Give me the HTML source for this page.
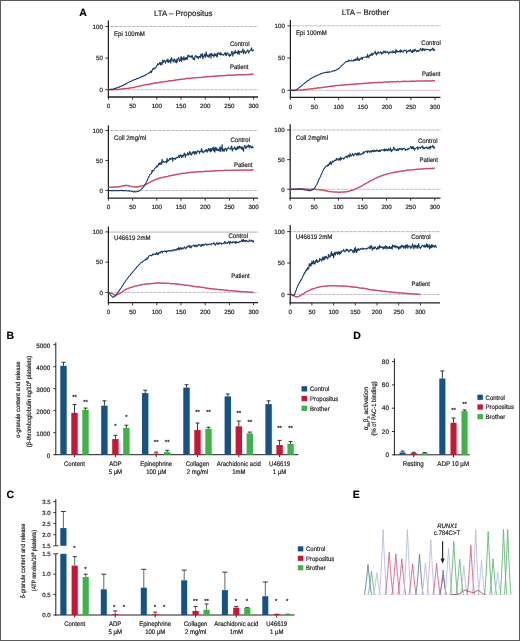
<!DOCTYPE html>
<html><head><meta charset="utf-8"><style>
html,body{margin:0;padding:0;background:#fff;width:520px;height:641px;overflow:hidden;}
svg{display:block;font-family:"Liberation Sans", sans-serif;will-change:transform;} text{stroke:#231f20;stroke-width:0.2px;text-rendering:geometricPrecision;}
</style></head><body>
<svg width="520" height="641" viewBox="0 0 520 641" font-family='"Liberation Sans", sans-serif'><rect x="0.5" y="0.5" width="519" height="640" fill="none" stroke="#5a5a5a" stroke-width="1"/>
<text x="83.00" y="16.30" font-size="10.5" text-anchor="middle" font-weight="bold" font-style="normal" fill="#000" >A</text>
<text x="183.30" y="15.60" font-size="8" text-anchor="middle" font-weight="normal" font-style="normal" fill="#231f20" textLength="58.4" lengthAdjust="spacingAndGlyphs">LTA – Propositus</text>
<text x="365.50" y="15.40" font-size="8" text-anchor="middle" font-weight="normal" font-style="normal" fill="#231f20" textLength="47.4" lengthAdjust="spacingAndGlyphs">LTA – Brother</text>
<line x1="108.40" y1="26.50" x2="258.00" y2="26.50" stroke="#9a9a9a" stroke-width="1.0" stroke-dasharray="0.7,0.6"/>
<line x1="108.40" y1="89.70" x2="258.00" y2="89.70" stroke="#9a9a9a" stroke-width="1.0" stroke-dasharray="0.7,0.6"/>
<line x1="108.40" y1="20.40" x2="108.40" y2="97.60" stroke="#231f20" stroke-width="1.25" />
<line x1="107.80" y1="97.00" x2="258.00" y2="97.00" stroke="#231f20" stroke-width="1.3" />
<line x1="105.40" y1="26.50" x2="108.40" y2="26.50" stroke="#231f20" stroke-width="0.9" />
<text x="102.90" y="28.70" font-size="6.2" text-anchor="end" font-weight="normal" font-style="normal" fill="#231f20" >100</text>
<line x1="105.40" y1="58.10" x2="108.40" y2="58.10" stroke="#231f20" stroke-width="0.9" />
<text x="102.90" y="60.30" font-size="6.2" text-anchor="end" font-weight="normal" font-style="normal" fill="#231f20" >50</text>
<line x1="105.40" y1="89.70" x2="108.40" y2="89.70" stroke="#231f20" stroke-width="0.9" />
<text x="102.90" y="91.90" font-size="6.2" text-anchor="end" font-weight="normal" font-style="normal" fill="#231f20" >0</text>
<line x1="108.40" y1="97.00" x2="108.40" y2="99.60" stroke="#231f20" stroke-width="0.9" />
<text x="108.40" y="108.30" font-size="6.2" text-anchor="middle" font-weight="normal" font-style="normal" fill="#231f20" >0</text>
<line x1="132.60" y1="97.00" x2="132.60" y2="99.60" stroke="#231f20" stroke-width="0.9" />
<text x="132.60" y="108.30" font-size="6.2" text-anchor="middle" font-weight="normal" font-style="normal" fill="#231f20" >50</text>
<line x1="156.80" y1="97.00" x2="156.80" y2="99.60" stroke="#231f20" stroke-width="0.9" />
<text x="156.80" y="108.30" font-size="6.2" text-anchor="middle" font-weight="normal" font-style="normal" fill="#231f20" >100</text>
<line x1="181.00" y1="97.00" x2="181.00" y2="99.60" stroke="#231f20" stroke-width="0.9" />
<text x="181.00" y="108.30" font-size="6.2" text-anchor="middle" font-weight="normal" font-style="normal" fill="#231f20" >150</text>
<line x1="205.20" y1="97.00" x2="205.20" y2="99.60" stroke="#231f20" stroke-width="0.9" />
<text x="205.20" y="108.30" font-size="6.2" text-anchor="middle" font-weight="normal" font-style="normal" fill="#231f20" >200</text>
<line x1="229.40" y1="97.00" x2="229.40" y2="99.60" stroke="#231f20" stroke-width="0.9" />
<text x="229.40" y="108.30" font-size="6.2" text-anchor="middle" font-weight="normal" font-style="normal" fill="#231f20" >250</text>
<line x1="253.60" y1="97.00" x2="253.60" y2="99.60" stroke="#231f20" stroke-width="0.9" />
<text x="253.60" y="108.30" font-size="6.2" text-anchor="middle" font-weight="normal" font-style="normal" fill="#231f20" >300</text>
<text x="114.00" y="35.90" font-size="6.63" text-anchor="start" font-weight="normal" font-style="normal" fill="#231f20"  textLength="30.85" lengthAdjust="spacingAndGlyphs">Epi 100mM</text>
<polyline points="108.40,89.72 109.37,89.65 110.34,89.49 111.30,89.65 112.27,89.62 113.24,89.57 114.21,89.70 115.18,89.55 116.14,89.46 117.11,89.34 118.08,89.54 119.05,89.37 120.02,89.37 120.98,89.00 121.95,88.94 122.92,89.09 123.89,88.62 124.86,88.51 125.82,88.50 126.79,88.39 127.76,88.43 128.73,88.34 129.70,87.99 130.66,88.01 131.63,87.80 132.60,87.60 133.57,87.50 134.54,87.15 135.50,86.96 136.47,86.61 137.44,86.53 138.41,86.28 139.38,86.12 140.34,85.85 141.31,85.72 142.28,85.58 143.25,85.10 144.22,84.90 145.18,84.76 146.15,84.62 147.12,84.58 148.09,84.43 149.06,84.23 150.02,84.14 150.99,83.71 151.96,83.68 152.93,83.35 153.90,83.36 154.86,82.98 155.83,82.86 156.80,83.03 157.77,82.79 158.74,82.37 159.70,82.39 160.67,82.04 161.64,82.11 162.61,82.09 163.58,81.73 164.54,81.52 165.51,81.57 166.48,81.50 167.45,81.26 168.42,80.88 169.38,80.81 170.35,80.92 171.32,80.73 172.29,80.65 173.26,80.53 174.22,80.12 175.19,80.22 176.16,79.94 177.13,79.86 178.10,79.82 179.06,79.49 180.03,79.59 181.00,79.27 181.97,79.35 182.94,79.11 183.90,79.07 184.87,78.93 185.84,78.55 186.81,78.50 187.78,78.58 188.74,78.25 189.71,78.41 190.68,78.24 191.65,77.97 192.62,77.96 193.58,78.08 194.55,77.65 195.52,77.86 196.49,77.76 197.46,77.48 198.42,77.57 199.39,77.50 200.36,77.50 201.33,77.41 202.30,77.14 203.26,77.19 204.23,76.97 205.20,76.97 206.17,76.86 207.14,76.59 208.10,76.69 209.07,76.58 210.04,76.39 211.01,76.57 211.98,76.50 212.94,76.14 213.91,76.10 214.88,76.24 215.85,76.19 216.82,75.91 217.78,75.77 218.75,75.98 219.72,75.63 220.69,75.59 221.66,75.63 222.62,75.63 223.59,75.69 224.56,75.65 225.53,75.25 226.50,75.46 227.46,75.23 228.43,75.35 229.40,75.09 230.37,75.12 231.34,75.19 232.30,75.19 233.27,74.94 234.24,75.14 235.21,75.04 236.18,74.88 237.14,74.73 238.11,74.78 239.08,74.87 240.05,74.59 241.02,74.82 241.98,74.85 242.95,74.72 243.92,74.62 244.89,74.73 245.86,74.65 246.82,74.54 247.79,74.42 248.76,74.55 249.73,74.43 250.70,74.19 251.66,74.12 252.63,74.20 253.60,74.14" fill="none" stroke="#e27a92" stroke-width="1.5" stroke-linejoin="round" />
<polyline points="108.40,89.72 109.37,89.65 110.34,89.49 111.30,89.65 112.27,89.62 113.24,89.57 114.21,89.70 115.18,89.55 116.14,89.46 117.11,89.34 118.08,89.54 119.05,89.37 120.02,89.37 120.98,89.00 121.95,88.94 122.92,89.09 123.89,88.62 124.86,88.51 125.82,88.50 126.79,88.39 127.76,88.43 128.73,88.34 129.70,87.99 130.66,88.01 131.63,87.80 132.60,87.60 133.57,87.50 134.54,87.15 135.50,86.96 136.47,86.61 137.44,86.53 138.41,86.28 139.38,86.12 140.34,85.85 141.31,85.72 142.28,85.58 143.25,85.10 144.22,84.90 145.18,84.76 146.15,84.62 147.12,84.58 148.09,84.43 149.06,84.23 150.02,84.14 150.99,83.71 151.96,83.68 152.93,83.35 153.90,83.36 154.86,82.98 155.83,82.86 156.80,83.03 157.77,82.79 158.74,82.37 159.70,82.39 160.67,82.04 161.64,82.11 162.61,82.09 163.58,81.73 164.54,81.52 165.51,81.57 166.48,81.50 167.45,81.26 168.42,80.88 169.38,80.81 170.35,80.92 171.32,80.73 172.29,80.65 173.26,80.53 174.22,80.12 175.19,80.22 176.16,79.94 177.13,79.86 178.10,79.82 179.06,79.49 180.03,79.59 181.00,79.27 181.97,79.35 182.94,79.11 183.90,79.07 184.87,78.93 185.84,78.55 186.81,78.50 187.78,78.58 188.74,78.25 189.71,78.41 190.68,78.24 191.65,77.97 192.62,77.96 193.58,78.08 194.55,77.65 195.52,77.86 196.49,77.76 197.46,77.48 198.42,77.57 199.39,77.50 200.36,77.50 201.33,77.41 202.30,77.14 203.26,77.19 204.23,76.97 205.20,76.97 206.17,76.86 207.14,76.59 208.10,76.69 209.07,76.58 210.04,76.39 211.01,76.57 211.98,76.50 212.94,76.14 213.91,76.10 214.88,76.24 215.85,76.19 216.82,75.91 217.78,75.77 218.75,75.98 219.72,75.63 220.69,75.59 221.66,75.63 222.62,75.63 223.59,75.69 224.56,75.65 225.53,75.25 226.50,75.46 227.46,75.23 228.43,75.35 229.40,75.09 230.37,75.12 231.34,75.19 232.30,75.19 233.27,74.94 234.24,75.14 235.21,75.04 236.18,74.88 237.14,74.73 238.11,74.78 239.08,74.87 240.05,74.59 241.02,74.82 241.98,74.85 242.95,74.72 243.92,74.62 244.89,74.73 245.86,74.65 246.82,74.54 247.79,74.42 248.76,74.55 249.73,74.43 250.70,74.19 251.66,74.12 252.63,74.20 253.60,74.14" fill="none" stroke="#a81e40" stroke-width="0.6" stroke-linejoin="round" />
<polyline points="108.40,89.79 108.88,89.68 109.37,89.53 109.85,89.51 110.34,89.21 110.82,89.56 111.30,89.30 111.79,89.28 112.27,89.32 112.76,89.24 113.24,88.96 113.72,88.96 114.21,88.57 114.69,88.49 115.18,88.63 115.66,88.26 116.14,87.75 116.63,88.02 117.11,87.76 117.60,87.80 118.08,87.15 118.56,87.20 119.05,87.09 119.53,87.11 120.02,86.40 120.50,86.48 120.98,86.04 121.47,86.29 121.95,85.96 122.44,85.62 122.92,85.47 123.40,84.88 123.89,84.87 124.37,84.62 124.86,84.70 125.34,84.52 125.82,83.58 126.31,83.75 126.79,83.52 127.28,82.82 127.76,82.93 128.24,82.60 128.73,82.20 129.21,82.06 129.70,81.75 130.18,81.56 130.66,81.45 131.15,81.19 131.63,80.81 132.12,80.35 132.60,80.70 133.08,80.24 133.57,79.92 134.05,79.94 134.54,79.52 135.02,79.49 135.50,79.37 135.99,79.25 136.47,78.75 136.96,78.40 137.44,78.68 137.92,78.55 138.41,78.05 138.89,78.09 139.38,77.84 139.86,77.67 140.34,77.66 140.83,77.00 141.31,76.59 141.80,76.92 142.28,76.69 142.76,76.12 143.25,76.11 143.73,75.75 144.22,75.98 144.70,75.38 145.18,74.98 145.67,75.15 146.15,74.52 146.64,74.45 147.12,74.04 147.60,73.69 148.09,73.60 148.57,73.15 149.06,73.19 149.54,72.27 150.02,72.71 150.51,71.86 150.99,70.60 151.48,72.60 151.96,70.94 152.44,70.21 152.93,68.43 153.41,69.17 153.90,67.85 154.38,68.29 154.86,68.86 155.35,68.07 155.83,67.23 156.32,67.00 156.80,65.64 157.28,65.07 157.77,63.51 158.25,64.79 158.74,64.69 159.22,63.73 159.70,62.39 160.19,63.18 160.67,65.07 161.16,62.43 161.64,64.13 162.12,64.56 162.61,60.17 163.09,62.52 163.58,61.27 164.06,60.08 164.54,61.33 165.03,61.09 165.51,63.32 166.00,60.66 166.48,60.46 166.96,59.85 167.45,61.99 167.93,58.94 168.42,62.55 168.90,60.84 169.38,60.48 169.87,61.87 170.35,59.64 170.84,63.29 171.32,57.56 171.80,58.57 172.29,60.32 172.77,60.87 173.26,61.97 173.74,59.50 174.22,58.88 174.71,60.71 175.19,62.55 175.68,61.12 176.16,58.92 176.64,63.05 177.13,61.78 177.61,59.32 178.10,59.11 178.58,57.55 179.06,58.80 179.55,61.39 180.03,59.71 180.52,60.39 181.00,56.21 181.48,61.57 181.97,57.47 182.45,59.32 182.94,58.66 183.42,60.03 183.90,56.42 184.39,60.07 184.87,58.81 185.36,57.88 185.84,59.85 186.32,57.44 186.81,57.76 187.29,59.41 187.78,55.20 188.26,57.11 188.74,55.15 189.23,56.35 189.71,56.63 190.20,55.99 190.68,56.83 191.16,57.66 191.65,55.84 192.13,55.41 192.62,57.13 193.10,59.25 193.58,57.81 194.07,59.62 194.55,59.84 195.04,56.23 195.52,55.50 196.00,55.79 196.49,57.38 196.97,56.39 197.46,56.42 197.94,58.09 198.42,58.73 198.91,56.42 199.39,57.12 199.88,56.41 200.36,57.91 200.84,54.08 201.33,55.09 201.81,56.39 202.30,53.63 202.78,58.71 203.26,57.52 203.75,55.96 204.23,55.13 204.72,53.97 205.20,57.47 205.68,55.57 206.17,51.88 206.65,54.82 207.14,56.81 207.62,55.52 208.10,54.77 208.59,57.00 209.07,57.39 209.56,55.11 210.04,53.61 210.52,54.46 211.01,58.11 211.49,53.29 211.98,54.07 212.46,55.52 212.94,55.69 213.43,54.82 213.91,57.25 214.40,53.84 214.88,53.56 215.36,55.73 215.85,55.14 216.33,53.91 216.82,57.04 217.30,56.80 217.78,52.97 218.27,52.84 218.75,53.66 219.24,54.40 219.72,54.19 220.20,52.36 220.69,54.99 221.17,53.21 221.66,54.82 222.14,54.75 222.62,54.35 223.11,54.94 223.59,55.24 224.08,54.22 224.56,53.56 225.04,52.45 225.53,55.27 226.01,53.47 226.50,55.41 226.98,53.02 227.46,53.35 227.95,53.02 228.43,55.11 228.92,55.18 229.40,56.34 229.88,54.13 230.37,55.67 230.85,55.30 231.34,53.23 231.82,51.16 232.30,52.27 232.79,56.11 233.27,53.76 233.76,52.11 234.24,52.31 234.72,53.57 235.21,50.15 235.69,53.03 236.18,52.26 236.66,52.13 237.14,52.99 237.63,53.85 238.11,50.57 238.60,51.16 239.08,54.77 239.56,51.39 240.05,51.50 240.53,51.43 241.02,52.48 241.50,52.55 241.98,51.61 242.47,50.19 242.95,49.03 243.44,54.01 243.92,50.78 244.40,50.86 244.89,51.81 245.37,53.48 245.86,52.13 246.34,52.54 246.82,51.06 247.31,51.31 247.79,49.82 248.28,51.07 248.76,53.21 249.24,51.52 249.73,50.76 250.21,50.53 250.70,50.42 251.18,48.57 251.66,47.89 252.15,51.20 252.63,50.54 253.12,50.61 253.60,49.36" fill="none" stroke="#1a3c62" stroke-width="1.05" stroke-linejoin="round" />
<text x="230.00" y="45.50" font-size="6.58" text-anchor="start" font-weight="normal" font-style="normal" fill="#231f20"  textLength="19.50" lengthAdjust="spacingAndGlyphs">Control</text>
<text x="230.00" y="69.20" font-size="6.47" text-anchor="start" font-weight="normal" font-style="normal" fill="#231f20"  textLength="18.52" lengthAdjust="spacingAndGlyphs">Patient</text>
<line x1="290.40" y1="25.80" x2="440.50" y2="25.80" stroke="#9a9a9a" stroke-width="1.0" stroke-dasharray="0.7,0.6"/>
<line x1="290.40" y1="90.30" x2="440.50" y2="90.30" stroke="#d2b6c2" stroke-width="0.8" />
<line x1="290.40" y1="19.90" x2="290.40" y2="97.90" stroke="#231f20" stroke-width="1.25" />
<line x1="289.80" y1="97.30" x2="440.50" y2="97.30" stroke="#231f20" stroke-width="1.3" />
<line x1="287.40" y1="25.80" x2="290.40" y2="25.80" stroke="#231f20" stroke-width="0.9" />
<text x="284.90" y="28.00" font-size="6.2" text-anchor="end" font-weight="normal" font-style="normal" fill="#231f20" >100</text>
<line x1="287.40" y1="58.05" x2="290.40" y2="58.05" stroke="#231f20" stroke-width="0.9" />
<text x="284.90" y="60.25" font-size="6.2" text-anchor="end" font-weight="normal" font-style="normal" fill="#231f20" >50</text>
<line x1="287.40" y1="90.30" x2="290.40" y2="90.30" stroke="#231f20" stroke-width="0.9" />
<text x="284.90" y="92.50" font-size="6.2" text-anchor="end" font-weight="normal" font-style="normal" fill="#231f20" >0</text>
<line x1="290.40" y1="97.30" x2="290.40" y2="99.90" stroke="#231f20" stroke-width="0.9" />
<text x="290.40" y="108.60" font-size="6.2" text-anchor="middle" font-weight="normal" font-style="normal" fill="#231f20" >0</text>
<line x1="314.50" y1="97.30" x2="314.50" y2="99.90" stroke="#231f20" stroke-width="0.9" />
<text x="314.50" y="108.60" font-size="6.2" text-anchor="middle" font-weight="normal" font-style="normal" fill="#231f20" >50</text>
<line x1="338.60" y1="97.30" x2="338.60" y2="99.90" stroke="#231f20" stroke-width="0.9" />
<text x="338.60" y="108.60" font-size="6.2" text-anchor="middle" font-weight="normal" font-style="normal" fill="#231f20" >100</text>
<line x1="362.70" y1="97.30" x2="362.70" y2="99.90" stroke="#231f20" stroke-width="0.9" />
<text x="362.70" y="108.60" font-size="6.2" text-anchor="middle" font-weight="normal" font-style="normal" fill="#231f20" >150</text>
<line x1="386.80" y1="97.30" x2="386.80" y2="99.90" stroke="#231f20" stroke-width="0.9" />
<text x="386.80" y="108.60" font-size="6.2" text-anchor="middle" font-weight="normal" font-style="normal" fill="#231f20" >200</text>
<line x1="410.90" y1="97.30" x2="410.90" y2="99.90" stroke="#231f20" stroke-width="0.9" />
<text x="410.90" y="108.60" font-size="6.2" text-anchor="middle" font-weight="normal" font-style="normal" fill="#231f20" >250</text>
<line x1="435.00" y1="97.30" x2="435.00" y2="99.90" stroke="#231f20" stroke-width="0.9" />
<text x="435.00" y="108.60" font-size="6.2" text-anchor="middle" font-weight="normal" font-style="normal" fill="#231f20" >300</text>
<text x="296.00" y="35.30" font-size="6.63" text-anchor="start" font-weight="normal" font-style="normal" fill="#231f20"  textLength="30.85" lengthAdjust="spacingAndGlyphs">Epi 100mM</text>
<polyline points="290.40,90.31 291.36,90.22 292.33,90.21 293.29,90.41 294.26,90.46 295.22,90.32 296.18,90.35 297.15,90.12 298.11,90.14 299.08,90.13 300.04,90.08 301.00,89.97 301.97,90.08 302.93,89.87 303.90,89.87 304.86,89.47 305.82,89.69 306.79,89.27 307.75,89.44 308.72,89.08 309.68,89.09 310.64,88.94 311.61,88.64 312.57,88.84 313.54,88.71 314.50,88.26 315.46,88.30 316.43,88.34 317.39,87.87 318.36,87.76 319.32,87.96 320.28,87.71 321.25,87.69 322.21,87.50 323.18,87.25 324.14,87.30 325.10,86.97 326.07,87.09 327.03,86.92 328.00,86.55 328.96,86.59 329.92,86.46 330.89,86.27 331.85,86.20 332.82,86.13 333.78,86.15 334.74,85.77 335.71,85.58 336.67,85.47 337.64,85.49 338.60,85.52 339.56,85.42 340.53,85.21 341.49,85.12 342.46,85.25 343.42,85.12 344.38,84.98 345.35,84.84 346.31,84.64 347.28,84.67 348.24,84.77 349.20,84.38 350.17,84.45 351.13,84.34 352.10,84.37 353.06,84.21 354.02,84.15 354.99,83.93 355.95,84.11 356.92,83.86 357.88,83.93 358.84,83.66 359.81,83.84 360.77,83.68 361.74,83.58 362.70,83.40 363.66,83.55 364.63,83.33 365.59,83.36 366.56,83.26 367.52,83.12 368.48,82.87 369.45,82.99 370.41,82.75 371.38,82.99 372.34,82.63 373.30,82.79 374.27,82.80 375.23,82.52 376.20,82.40 377.16,82.69 378.12,82.54 379.09,82.29 380.05,82.40 381.02,82.39 381.98,82.44 382.94,82.38 383.91,82.11 384.87,81.93 385.84,81.88 386.80,82.03 387.76,82.18 388.73,82.02 389.69,81.81 390.66,81.75 391.62,81.79 392.58,81.92 393.55,81.77 394.51,81.76 395.48,81.67 396.44,81.78 397.40,81.48 398.37,81.48 399.33,81.73 400.30,81.65 401.26,81.40 402.22,81.60 403.19,81.31 404.15,81.45 405.12,81.35 406.08,81.32 407.04,81.48 408.01,81.43 408.97,81.41 409.94,81.22 410.90,81.20 411.86,81.39 412.83,81.08 413.79,81.24 414.76,81.28 415.72,81.19 416.68,80.96 417.65,81.10 418.61,81.06 419.58,80.93 420.54,80.90 421.50,80.96 422.47,81.07 423.43,80.99 424.40,80.85 425.36,80.88 426.32,80.94 427.29,81.02 428.25,80.99 429.22,80.83 430.18,80.88 431.14,81.08 432.11,80.79 433.07,80.70 434.04,80.72 435.00,80.66" fill="none" stroke="#e27a92" stroke-width="1.5" stroke-linejoin="round" />
<polyline points="290.40,90.31 291.36,90.22 292.33,90.21 293.29,90.41 294.26,90.46 295.22,90.32 296.18,90.35 297.15,90.12 298.11,90.14 299.08,90.13 300.04,90.08 301.00,89.97 301.97,90.08 302.93,89.87 303.90,89.87 304.86,89.47 305.82,89.69 306.79,89.27 307.75,89.44 308.72,89.08 309.68,89.09 310.64,88.94 311.61,88.64 312.57,88.84 313.54,88.71 314.50,88.26 315.46,88.30 316.43,88.34 317.39,87.87 318.36,87.76 319.32,87.96 320.28,87.71 321.25,87.69 322.21,87.50 323.18,87.25 324.14,87.30 325.10,86.97 326.07,87.09 327.03,86.92 328.00,86.55 328.96,86.59 329.92,86.46 330.89,86.27 331.85,86.20 332.82,86.13 333.78,86.15 334.74,85.77 335.71,85.58 336.67,85.47 337.64,85.49 338.60,85.52 339.56,85.42 340.53,85.21 341.49,85.12 342.46,85.25 343.42,85.12 344.38,84.98 345.35,84.84 346.31,84.64 347.28,84.67 348.24,84.77 349.20,84.38 350.17,84.45 351.13,84.34 352.10,84.37 353.06,84.21 354.02,84.15 354.99,83.93 355.95,84.11 356.92,83.86 357.88,83.93 358.84,83.66 359.81,83.84 360.77,83.68 361.74,83.58 362.70,83.40 363.66,83.55 364.63,83.33 365.59,83.36 366.56,83.26 367.52,83.12 368.48,82.87 369.45,82.99 370.41,82.75 371.38,82.99 372.34,82.63 373.30,82.79 374.27,82.80 375.23,82.52 376.20,82.40 377.16,82.69 378.12,82.54 379.09,82.29 380.05,82.40 381.02,82.39 381.98,82.44 382.94,82.38 383.91,82.11 384.87,81.93 385.84,81.88 386.80,82.03 387.76,82.18 388.73,82.02 389.69,81.81 390.66,81.75 391.62,81.79 392.58,81.92 393.55,81.77 394.51,81.76 395.48,81.67 396.44,81.78 397.40,81.48 398.37,81.48 399.33,81.73 400.30,81.65 401.26,81.40 402.22,81.60 403.19,81.31 404.15,81.45 405.12,81.35 406.08,81.32 407.04,81.48 408.01,81.43 408.97,81.41 409.94,81.22 410.90,81.20 411.86,81.39 412.83,81.08 413.79,81.24 414.76,81.28 415.72,81.19 416.68,80.96 417.65,81.10 418.61,81.06 419.58,80.93 420.54,80.90 421.50,80.96 422.47,81.07 423.43,80.99 424.40,80.85 425.36,80.88 426.32,80.94 427.29,81.02 428.25,80.99 429.22,80.83 430.18,80.88 431.14,81.08 432.11,80.79 433.07,80.70 434.04,80.72 435.00,80.66" fill="none" stroke="#a81e40" stroke-width="0.6" stroke-linejoin="round" />
<polyline points="290.40,90.10 290.88,90.41 291.36,90.26 291.85,90.52 292.33,90.22 292.81,90.30 293.29,90.60 293.77,90.00 294.26,90.46 294.74,90.50 295.22,90.20 295.70,89.97 296.18,89.94 296.67,89.43 297.15,89.17 297.63,88.65 298.11,88.54 298.59,87.94 299.08,87.71 299.56,87.38 300.04,86.75 300.52,86.41 301.00,86.21 301.49,86.01 301.97,85.55 302.45,85.29 302.93,84.55 303.41,84.11 303.90,83.99 304.38,83.41 304.86,82.94 305.34,82.45 305.82,82.43 306.31,81.87 306.79,81.84 307.27,80.85 307.75,80.71 308.23,80.53 308.72,80.20 309.20,79.70 309.68,79.60 310.16,79.08 310.64,78.61 311.13,78.59 311.61,78.20 312.09,77.97 312.57,77.83 313.05,77.23 313.54,76.94 314.02,76.88 314.50,76.87 314.98,76.15 315.46,75.94 315.95,75.89 316.43,75.86 316.91,75.40 317.39,75.34 317.87,74.72 318.36,74.97 318.84,74.95 319.32,74.59 319.80,74.23 320.28,74.15 320.77,73.54 321.25,73.73 321.73,73.26 322.21,73.43 322.69,73.06 323.18,72.98 323.66,72.85 324.14,73.00 324.62,72.80 325.10,72.34 325.59,72.49 326.07,72.60 326.55,71.98 327.03,72.50 327.51,72.37 328.00,71.89 328.48,72.38 328.96,72.04 329.44,71.80 329.92,72.02 330.41,71.95 330.89,71.82 331.37,71.66 331.85,71.57 332.33,71.10 332.82,71.15 333.30,70.83 333.78,71.05 334.26,70.65 334.74,70.93 335.23,70.28 335.71,70.25 336.19,70.01 336.67,69.92 337.15,69.15 337.64,69.44 338.12,69.05 338.60,68.47 339.08,68.60 339.56,67.75 340.05,67.54 340.53,66.93 341.01,66.61 341.49,65.73 341.97,65.24 342.46,65.03 342.94,64.72 343.42,64.04 343.90,63.60 344.38,63.06 344.87,62.52 345.35,62.09 345.83,61.71 346.31,61.79 346.79,61.89 347.28,61.25 347.76,60.92 348.24,61.43 348.72,59.95 349.20,60.99 349.69,60.83 350.17,60.84 350.65,61.14 351.13,61.08 351.61,59.99 352.10,60.85 352.58,61.07 353.06,60.98 353.54,59.90 354.02,60.82 354.51,59.45 354.99,60.20 355.47,58.91 355.95,60.66 356.43,59.36 356.92,59.45 357.40,57.11 357.88,60.53 358.36,58.68 358.84,59.43 359.33,60.51 359.81,58.81 360.29,59.14 360.77,59.18 361.25,57.48 361.74,57.97 362.22,59.50 362.70,57.58 363.18,57.45 363.66,57.28 364.15,57.21 364.63,57.20 365.11,57.14 365.59,57.04 366.07,56.49 366.56,57.22 367.04,57.67 367.52,54.36 368.00,56.72 368.48,56.11 368.97,57.92 369.45,55.08 369.93,55.36 370.41,54.40 370.89,55.47 371.38,54.45 371.86,53.26 372.34,55.35 372.82,53.74 373.30,54.29 373.79,53.29 374.27,52.72 374.75,52.96 375.23,51.06 375.71,54.03 376.20,53.03 376.68,55.07 377.16,53.51 377.64,52.44 378.12,51.90 378.61,53.37 379.09,52.85 379.57,52.84 380.05,52.54 380.53,51.66 381.02,52.75 381.50,54.07 381.98,52.43 382.46,53.19 382.94,53.62 383.43,51.22 383.91,51.35 384.39,52.34 384.87,51.85 385.35,51.11 385.84,52.96 386.32,52.33 386.80,52.03 387.28,51.28 387.76,52.41 388.25,52.33 388.73,54.03 389.21,52.53 389.69,52.00 390.17,52.59 390.66,52.27 391.14,51.72 391.62,51.98 392.10,53.04 392.58,51.34 393.07,50.88 393.55,52.69 394.03,52.38 394.51,52.25 394.99,51.20 395.48,53.45 395.96,49.33 396.44,52.08 396.92,50.70 397.40,52.03 397.89,51.36 398.37,51.92 398.85,51.09 399.33,51.74 399.81,50.63 400.30,52.48 400.78,49.68 401.26,51.46 401.74,50.49 402.22,51.64 402.71,51.84 403.19,52.31 403.67,51.19 404.15,49.92 404.63,50.44 405.12,50.45 405.60,50.55 406.08,49.97 406.56,53.22 407.04,51.07 407.53,51.26 408.01,51.40 408.49,50.48 408.97,50.37 409.45,51.19 409.94,50.25 410.42,49.48 410.90,51.31 411.38,51.40 411.86,52.62 412.35,50.21 412.83,52.37 413.31,49.93 413.79,51.14 414.27,49.80 414.76,51.20 415.24,49.31 415.72,50.30 416.20,50.91 416.68,51.60 417.17,50.46 417.65,51.45 418.13,50.21 418.61,51.17 419.09,51.04 419.58,50.58 420.06,49.56 420.54,48.36 421.02,49.81 421.50,49.86 421.99,50.86 422.47,48.27 422.95,50.39 423.43,49.08 423.91,48.69 424.40,50.62 424.88,49.61 425.36,50.00 425.84,49.07 426.32,49.66 426.81,49.82 427.29,49.36 427.77,49.40 428.25,49.63 428.73,49.49 429.22,49.43 429.70,50.54 430.18,50.95 430.66,49.73 431.14,49.35 431.63,49.96 432.11,49.53 432.59,48.09 433.07,48.09 433.55,50.76 434.04,50.49 434.52,49.82 435.00,48.97" fill="none" stroke="#1a3c62" stroke-width="1.05" stroke-linejoin="round" />
<text x="421.30" y="45.30" font-size="6.58" text-anchor="start" font-weight="normal" font-style="normal" fill="#231f20"  textLength="19.50" lengthAdjust="spacingAndGlyphs">Control</text>
<text x="422.00" y="75.90" font-size="6.47" text-anchor="start" font-weight="normal" font-style="normal" fill="#231f20"  textLength="18.52" lengthAdjust="spacingAndGlyphs">Patient</text>
<line x1="108.40" y1="130.50" x2="258.00" y2="130.50" stroke="#9a9a9a" stroke-width="1.0" stroke-dasharray="0.7,0.6"/>
<line x1="108.40" y1="190.40" x2="258.00" y2="190.40" stroke="#9a9a9a" stroke-width="1.0" stroke-dasharray="0.7,0.6"/>
<line x1="108.40" y1="125.40" x2="108.40" y2="198.70" stroke="#231f20" stroke-width="1.25" />
<line x1="107.80" y1="198.10" x2="258.00" y2="198.10" stroke="#231f20" stroke-width="1.3" />
<line x1="105.40" y1="130.50" x2="108.40" y2="130.50" stroke="#231f20" stroke-width="0.9" />
<text x="102.90" y="132.70" font-size="6.2" text-anchor="end" font-weight="normal" font-style="normal" fill="#231f20" >100</text>
<line x1="105.40" y1="160.45" x2="108.40" y2="160.45" stroke="#231f20" stroke-width="0.9" />
<text x="102.90" y="162.65" font-size="6.2" text-anchor="end" font-weight="normal" font-style="normal" fill="#231f20" >50</text>
<line x1="105.40" y1="190.40" x2="108.40" y2="190.40" stroke="#231f20" stroke-width="0.9" />
<text x="102.90" y="192.60" font-size="6.2" text-anchor="end" font-weight="normal" font-style="normal" fill="#231f20" >0</text>
<line x1="108.40" y1="198.10" x2="108.40" y2="200.70" stroke="#231f20" stroke-width="0.9" />
<text x="108.40" y="209.40" font-size="6.2" text-anchor="middle" font-weight="normal" font-style="normal" fill="#231f20" >0</text>
<line x1="132.60" y1="198.10" x2="132.60" y2="200.70" stroke="#231f20" stroke-width="0.9" />
<text x="132.60" y="209.40" font-size="6.2" text-anchor="middle" font-weight="normal" font-style="normal" fill="#231f20" >50</text>
<line x1="156.80" y1="198.10" x2="156.80" y2="200.70" stroke="#231f20" stroke-width="0.9" />
<text x="156.80" y="209.40" font-size="6.2" text-anchor="middle" font-weight="normal" font-style="normal" fill="#231f20" >100</text>
<line x1="181.00" y1="198.10" x2="181.00" y2="200.70" stroke="#231f20" stroke-width="0.9" />
<text x="181.00" y="209.40" font-size="6.2" text-anchor="middle" font-weight="normal" font-style="normal" fill="#231f20" >150</text>
<line x1="205.20" y1="198.10" x2="205.20" y2="200.70" stroke="#231f20" stroke-width="0.9" />
<text x="205.20" y="209.40" font-size="6.2" text-anchor="middle" font-weight="normal" font-style="normal" fill="#231f20" >200</text>
<line x1="229.40" y1="198.10" x2="229.40" y2="200.70" stroke="#231f20" stroke-width="0.9" />
<text x="229.40" y="209.40" font-size="6.2" text-anchor="middle" font-weight="normal" font-style="normal" fill="#231f20" >250</text>
<line x1="253.60" y1="198.10" x2="253.60" y2="200.70" stroke="#231f20" stroke-width="0.9" />
<text x="253.60" y="209.40" font-size="6.2" text-anchor="middle" font-weight="normal" font-style="normal" fill="#231f20" >300</text>
<text x="114.00" y="140.40" font-size="6.63" text-anchor="start" font-weight="normal" font-style="normal" fill="#231f20"  textLength="32.20" lengthAdjust="spacingAndGlyphs">Coll 2mg/ml</text>
<polyline points="108.40,187.41 109.37,187.17 110.34,187.16 111.30,187.18 112.27,187.25 113.24,187.01 114.21,186.96 115.18,187.02 116.14,186.97 117.11,186.99 118.08,186.98 119.05,186.72 120.02,186.45 120.98,186.41 121.95,185.92 122.92,185.91 123.89,185.73 124.86,185.68 125.82,185.31 126.79,185.46 127.76,185.53 128.73,185.78 129.70,186.18 130.66,186.29 131.63,186.43 132.60,186.76 133.57,186.61 134.54,186.93 135.50,187.06 136.47,186.79 137.44,186.95 138.41,186.52 139.38,186.50 140.34,186.23 141.31,186.04 142.28,185.69 143.25,185.47 144.22,185.18 145.18,184.51 146.15,184.33 147.12,183.68 148.09,183.41 149.06,182.64 150.02,182.16 150.99,181.69 151.96,181.18 152.93,180.75 153.90,180.22 154.86,179.99 155.83,179.45 156.80,178.96 157.77,178.86 158.74,178.30 159.70,178.03 160.67,177.94 161.64,177.71 162.61,177.44 163.58,177.25 164.54,176.82 165.51,176.83 166.48,176.76 167.45,176.54 168.42,176.12 169.38,175.82 170.35,175.79 171.32,175.58 172.29,175.35 173.26,175.07 174.22,175.06 175.19,174.72 176.16,174.54 177.13,174.33 178.10,174.30 179.06,174.13 180.03,173.89 181.00,173.52 181.97,173.57 182.94,173.33 183.90,173.30 184.87,173.24 185.84,173.13 186.81,172.75 187.78,172.65 188.74,172.69 189.71,172.49 190.68,172.40 191.65,172.24 192.62,172.14 193.58,172.26 194.55,171.98 195.52,171.92 196.49,171.98 197.46,171.80 198.42,171.87 199.39,171.85 200.36,171.82 201.33,171.53 202.30,171.72 203.26,171.69 204.23,171.36 205.20,171.31 206.17,171.35 207.14,171.16 208.10,171.38 209.07,171.25 210.04,171.18 211.01,171.08 211.98,171.11 212.94,171.10 213.91,170.95 214.88,170.70 215.85,170.62 216.82,170.67 217.78,170.72 218.75,170.76 219.72,170.47 220.69,170.59 221.66,170.48 222.62,170.70 223.59,170.60 224.56,170.35 225.53,170.34 226.50,170.28 227.46,170.35 228.43,170.39 229.40,170.31 230.37,170.20 231.34,170.37 232.30,170.27 233.27,170.34 234.24,170.15 235.21,170.40 236.18,170.14 237.14,170.03 238.11,170.35 239.08,170.13 240.05,170.09 241.02,170.00 241.98,170.09 242.95,170.19 243.92,170.12 244.89,169.91 245.86,169.91 246.82,170.17 247.79,170.17 248.76,170.15 249.73,170.16 250.70,169.99 251.66,170.08 252.63,169.80 253.60,169.86" fill="none" stroke="#e27a92" stroke-width="1.5" stroke-linejoin="round" />
<polyline points="108.40,187.41 109.37,187.17 110.34,187.16 111.30,187.18 112.27,187.25 113.24,187.01 114.21,186.96 115.18,187.02 116.14,186.97 117.11,186.99 118.08,186.98 119.05,186.72 120.02,186.45 120.98,186.41 121.95,185.92 122.92,185.91 123.89,185.73 124.86,185.68 125.82,185.31 126.79,185.46 127.76,185.53 128.73,185.78 129.70,186.18 130.66,186.29 131.63,186.43 132.60,186.76 133.57,186.61 134.54,186.93 135.50,187.06 136.47,186.79 137.44,186.95 138.41,186.52 139.38,186.50 140.34,186.23 141.31,186.04 142.28,185.69 143.25,185.47 144.22,185.18 145.18,184.51 146.15,184.33 147.12,183.68 148.09,183.41 149.06,182.64 150.02,182.16 150.99,181.69 151.96,181.18 152.93,180.75 153.90,180.22 154.86,179.99 155.83,179.45 156.80,178.96 157.77,178.86 158.74,178.30 159.70,178.03 160.67,177.94 161.64,177.71 162.61,177.44 163.58,177.25 164.54,176.82 165.51,176.83 166.48,176.76 167.45,176.54 168.42,176.12 169.38,175.82 170.35,175.79 171.32,175.58 172.29,175.35 173.26,175.07 174.22,175.06 175.19,174.72 176.16,174.54 177.13,174.33 178.10,174.30 179.06,174.13 180.03,173.89 181.00,173.52 181.97,173.57 182.94,173.33 183.90,173.30 184.87,173.24 185.84,173.13 186.81,172.75 187.78,172.65 188.74,172.69 189.71,172.49 190.68,172.40 191.65,172.24 192.62,172.14 193.58,172.26 194.55,171.98 195.52,171.92 196.49,171.98 197.46,171.80 198.42,171.87 199.39,171.85 200.36,171.82 201.33,171.53 202.30,171.72 203.26,171.69 204.23,171.36 205.20,171.31 206.17,171.35 207.14,171.16 208.10,171.38 209.07,171.25 210.04,171.18 211.01,171.08 211.98,171.11 212.94,171.10 213.91,170.95 214.88,170.70 215.85,170.62 216.82,170.67 217.78,170.72 218.75,170.76 219.72,170.47 220.69,170.59 221.66,170.48 222.62,170.70 223.59,170.60 224.56,170.35 225.53,170.34 226.50,170.28 227.46,170.35 228.43,170.39 229.40,170.31 230.37,170.20 231.34,170.37 232.30,170.27 233.27,170.34 234.24,170.15 235.21,170.40 236.18,170.14 237.14,170.03 238.11,170.35 239.08,170.13 240.05,170.09 241.02,170.00 241.98,170.09 242.95,170.19 243.92,170.12 244.89,169.91 245.86,169.91 246.82,170.17 247.79,170.17 248.76,170.15 249.73,170.16 250.70,169.99 251.66,170.08 252.63,169.80 253.60,169.86" fill="none" stroke="#a81e40" stroke-width="0.6" stroke-linejoin="round" />
<polyline points="108.40,190.54 108.88,190.54 109.37,190.79 109.85,190.51 110.34,190.67 110.82,190.58 111.30,190.61 111.79,190.52 112.27,190.73 112.76,190.89 113.24,190.39 113.72,190.57 114.21,190.43 114.69,190.86 115.18,190.63 115.66,190.65 116.14,190.69 116.63,190.60 117.11,190.60 117.60,190.72 118.08,190.63 118.56,190.73 119.05,190.64 119.53,190.74 120.02,190.42 120.50,190.54 120.98,190.73 121.47,190.23 121.95,190.65 122.44,190.39 122.92,191.01 123.40,190.73 123.89,190.41 124.37,190.47 124.86,190.92 125.34,190.65 125.82,190.50 126.31,190.70 126.79,190.75 127.28,190.91 127.76,190.79 128.24,190.80 128.73,190.64 129.21,191.37 129.70,191.09 130.18,190.96 130.66,191.10 131.15,191.28 131.63,191.31 132.12,191.43 132.60,191.43 133.08,191.90 133.57,191.92 134.05,191.66 134.54,191.51 135.02,191.75 135.50,191.98 135.99,191.68 136.47,191.86 136.96,191.54 137.44,191.55 137.92,191.36 138.41,191.36 138.89,190.94 139.38,190.79 139.86,190.68 140.34,190.03 140.83,189.80 141.31,189.17 141.80,188.56 142.28,188.50 142.76,187.70 143.25,187.09 143.73,186.57 144.22,186.10 144.70,185.16 145.18,184.47 145.67,183.87 146.15,182.48 146.64,181.74 147.12,180.41 147.60,179.61 148.09,178.10 148.57,177.46 149.06,176.33 149.54,175.70 150.02,174.18 150.51,174.15 150.99,174.03 151.48,173.38 151.96,170.26 152.44,172.01 152.93,170.46 153.41,170.55 153.90,170.37 154.38,168.87 154.86,168.46 155.35,167.71 155.83,167.36 156.32,167.09 156.80,165.42 157.28,166.91 157.77,166.27 158.25,165.16 158.74,163.16 159.22,164.83 159.70,163.67 160.19,162.59 160.67,164.49 161.16,164.53 161.64,163.01 162.12,159.31 162.61,162.74 163.09,161.16 163.58,161.42 164.06,162.26 164.54,161.80 165.03,162.03 165.51,161.91 166.00,161.48 166.48,162.95 166.96,158.35 167.45,161.72 167.93,159.88 168.42,160.80 168.90,160.56 169.38,159.09 169.87,158.36 170.35,159.47 170.84,158.34 171.32,158.69 171.80,158.95 172.29,157.57 172.77,161.43 173.26,158.49 173.74,158.53 174.22,158.52 174.71,158.01 175.19,159.47 175.68,159.03 176.16,157.61 176.64,157.33 177.13,157.93 177.61,157.40 178.10,157.64 178.58,155.64 179.06,155.86 179.55,157.52 180.03,155.06 180.52,154.73 181.00,155.64 181.48,157.67 181.97,155.27 182.45,155.68 182.94,157.16 183.42,154.69 183.90,155.12 184.39,152.99 184.87,153.51 185.36,157.50 185.84,154.65 186.32,154.83 186.81,154.96 187.29,154.59 187.78,152.39 188.26,155.27 188.74,153.77 189.23,154.50 189.71,151.23 190.20,152.44 190.68,154.61 191.16,154.17 191.65,155.21 192.13,152.33 192.62,153.18 193.10,151.62 193.58,153.07 194.07,151.42 194.55,154.14 195.04,154.11 195.52,151.59 196.00,151.74 196.49,153.85 196.97,151.93 197.46,151.32 197.94,150.66 198.42,151.22 198.91,151.35 199.39,153.40 199.88,151.28 200.36,151.72 200.84,151.84 201.33,148.73 201.81,149.23 202.30,152.33 202.78,151.28 203.26,151.67 203.75,152.82 204.23,151.31 204.72,150.81 205.20,150.24 205.68,151.42 206.17,149.37 206.65,150.20 207.14,152.27 207.62,150.78 208.10,149.40 208.59,148.46 209.07,151.04 209.56,150.18 210.04,148.74 210.52,152.03 211.01,148.41 211.49,151.11 211.98,149.50 212.46,147.68 212.94,148.53 213.43,150.75 213.91,146.84 214.40,151.62 214.88,152.09 215.36,147.62 215.85,147.41 216.33,150.43 216.82,148.26 217.30,149.35 217.78,150.76 218.27,150.53 218.75,149.24 219.24,151.17 219.72,147.62 220.20,146.61 220.69,151.81 221.17,149.74 221.66,147.84 222.14,144.56 222.62,151.16 223.11,149.75 223.59,149.12 224.08,151.64 224.56,149.24 225.04,148.43 225.53,149.50 226.01,148.32 226.50,151.09 226.98,149.31 227.46,149.13 227.95,148.12 228.43,147.25 228.92,148.35 229.40,148.81 229.88,148.66 230.37,148.94 230.85,149.22 231.34,146.04 231.82,146.49 232.30,151.10 232.79,148.70 233.27,148.92 233.76,148.27 234.24,148.08 234.72,146.75 235.21,149.52 235.69,149.79 236.18,147.98 236.66,149.87 237.14,147.94 237.63,146.47 238.11,148.92 238.60,146.72 239.08,147.89 239.56,146.06 240.05,147.98 240.53,147.50 241.02,146.77 241.50,149.07 241.98,146.75 242.47,149.44 242.95,147.86 243.44,151.46 243.92,148.21 244.40,146.30 244.89,145.22 245.37,147.08 245.86,148.58 246.34,147.87 246.82,146.11 247.31,146.94 247.79,146.58 248.28,144.71 248.76,146.21 249.24,148.14 249.73,145.50 250.21,146.21 250.70,145.88 251.18,147.92 251.66,147.77 252.15,146.14 252.63,147.64 253.12,147.65 253.60,147.24" fill="none" stroke="#1a3c62" stroke-width="1.05" stroke-linejoin="round" />
<text x="230.50" y="142.40" font-size="6.58" text-anchor="start" font-weight="normal" font-style="normal" fill="#231f20"  textLength="19.50" lengthAdjust="spacingAndGlyphs">Control</text>
<text x="234.00" y="167.00" font-size="6.47" text-anchor="start" font-weight="normal" font-style="normal" fill="#231f20"  textLength="18.52" lengthAdjust="spacingAndGlyphs">Patient</text>
<line x1="290.20" y1="130.00" x2="440.50" y2="130.00" stroke="#9a9a9a" stroke-width="1.0" stroke-dasharray="0.7,0.6"/>
<line x1="290.20" y1="189.30" x2="440.50" y2="189.30" stroke="#9a9a9a" stroke-width="1.0" stroke-dasharray="0.7,0.6"/>
<line x1="290.20" y1="124.30" x2="290.20" y2="198.70" stroke="#231f20" stroke-width="1.25" />
<line x1="289.60" y1="198.10" x2="440.50" y2="198.10" stroke="#231f20" stroke-width="1.3" />
<line x1="287.20" y1="130.00" x2="290.20" y2="130.00" stroke="#231f20" stroke-width="0.9" />
<text x="284.70" y="132.20" font-size="6.2" text-anchor="end" font-weight="normal" font-style="normal" fill="#231f20" >100</text>
<line x1="287.20" y1="159.65" x2="290.20" y2="159.65" stroke="#231f20" stroke-width="0.9" />
<text x="284.70" y="161.85" font-size="6.2" text-anchor="end" font-weight="normal" font-style="normal" fill="#231f20" >50</text>
<line x1="287.20" y1="189.30" x2="290.20" y2="189.30" stroke="#231f20" stroke-width="0.9" />
<text x="284.70" y="191.50" font-size="6.2" text-anchor="end" font-weight="normal" font-style="normal" fill="#231f20" >0</text>
<line x1="290.20" y1="198.10" x2="290.20" y2="200.70" stroke="#231f20" stroke-width="0.9" />
<text x="290.20" y="209.40" font-size="6.2" text-anchor="middle" font-weight="normal" font-style="normal" fill="#231f20" >0</text>
<line x1="314.30" y1="198.10" x2="314.30" y2="200.70" stroke="#231f20" stroke-width="0.9" />
<text x="314.30" y="209.40" font-size="6.2" text-anchor="middle" font-weight="normal" font-style="normal" fill="#231f20" >50</text>
<line x1="338.40" y1="198.10" x2="338.40" y2="200.70" stroke="#231f20" stroke-width="0.9" />
<text x="338.40" y="209.40" font-size="6.2" text-anchor="middle" font-weight="normal" font-style="normal" fill="#231f20" >100</text>
<line x1="362.50" y1="198.10" x2="362.50" y2="200.70" stroke="#231f20" stroke-width="0.9" />
<text x="362.50" y="209.40" font-size="6.2" text-anchor="middle" font-weight="normal" font-style="normal" fill="#231f20" >150</text>
<line x1="386.60" y1="198.10" x2="386.60" y2="200.70" stroke="#231f20" stroke-width="0.9" />
<text x="386.60" y="209.40" font-size="6.2" text-anchor="middle" font-weight="normal" font-style="normal" fill="#231f20" >200</text>
<line x1="410.70" y1="198.10" x2="410.70" y2="200.70" stroke="#231f20" stroke-width="0.9" />
<text x="410.70" y="209.40" font-size="6.2" text-anchor="middle" font-weight="normal" font-style="normal" fill="#231f20" >250</text>
<line x1="434.80" y1="198.10" x2="434.80" y2="200.70" stroke="#231f20" stroke-width="0.9" />
<text x="434.80" y="209.40" font-size="6.2" text-anchor="middle" font-weight="normal" font-style="normal" fill="#231f20" >300</text>
<text x="295.80" y="140.20" font-size="6.63" text-anchor="start" font-weight="normal" font-style="normal" fill="#231f20"  textLength="32.20" lengthAdjust="spacingAndGlyphs">Coll 2mg/ml</text>
<polyline points="290.20,189.14 291.16,189.43 292.13,189.47 293.09,189.12 294.06,189.40 295.02,189.42 295.98,189.22 296.95,189.32 297.91,189.12 298.88,189.35 299.84,189.08 300.80,189.30 301.77,189.20 302.73,189.08 303.70,189.16 304.66,189.07 305.62,189.15 306.59,189.39 307.55,189.09 308.52,189.20 309.48,189.31 310.44,189.37 311.41,189.15 312.37,189.26 313.34,189.16 314.30,189.25 315.26,189.24 316.23,189.44 317.19,189.47 318.16,189.59 319.12,189.81 320.08,189.67 321.05,190.02 322.01,189.98 322.98,190.06 323.94,190.34 324.90,190.70 325.87,190.65 326.83,190.90 327.80,191.25 328.76,191.48 329.72,191.48 330.69,191.80 331.65,191.60 332.62,191.85 333.58,191.93 334.54,192.04 335.51,192.01 336.47,191.97 337.44,192.22 338.40,192.21 339.36,192.14 340.33,192.23 341.29,192.10 342.26,192.07 343.22,192.05 344.18,191.89 345.15,191.84 346.11,191.88 347.08,191.42 348.04,191.47 349.00,191.25 349.97,191.03 350.93,190.57 351.90,190.25 352.86,190.06 353.82,189.71 354.79,189.40 355.75,188.67 356.72,188.47 357.68,187.87 358.64,187.46 359.61,186.99 360.57,186.49 361.54,186.04 362.50,185.57 363.46,184.86 364.43,184.22 365.39,183.73 366.36,183.34 367.32,182.63 368.28,182.34 369.25,181.70 370.21,181.03 371.18,180.48 372.14,180.13 373.10,179.48 374.07,179.11 375.03,178.62 376.00,178.14 376.96,177.56 377.92,177.23 378.89,176.93 379.85,176.44 380.82,176.09 381.78,175.83 382.74,175.32 383.71,174.97 384.67,174.73 385.64,174.31 386.60,174.35 387.56,173.91 388.53,173.60 389.49,173.46 390.46,173.29 391.42,172.88 392.38,172.76 393.35,172.61 394.31,172.49 395.28,171.97 396.24,172.01 397.20,171.91 398.17,171.70 399.13,171.51 400.10,171.13 401.06,171.22 402.02,171.03 402.99,170.95 403.95,170.69 404.92,170.65 405.88,170.47 406.84,170.21 407.81,170.03 408.77,169.95 409.74,170.12 410.70,169.89 411.66,169.62 412.63,169.81 413.59,169.66 414.56,169.47 415.52,169.42 416.48,169.21 417.45,169.15 418.41,169.16 419.38,169.17 420.34,169.11 421.30,169.02 422.27,169.03 423.23,168.75 424.20,168.87 425.16,168.55 426.12,168.58 427.09,168.74 428.05,168.53 429.02,168.44 429.98,168.60 430.94,168.39 431.91,168.51 432.87,168.20 433.84,168.42 434.80,168.14" fill="none" stroke="#e27a92" stroke-width="1.5" stroke-linejoin="round" />
<polyline points="290.20,189.14 291.16,189.43 292.13,189.47 293.09,189.12 294.06,189.40 295.02,189.42 295.98,189.22 296.95,189.32 297.91,189.12 298.88,189.35 299.84,189.08 300.80,189.30 301.77,189.20 302.73,189.08 303.70,189.16 304.66,189.07 305.62,189.15 306.59,189.39 307.55,189.09 308.52,189.20 309.48,189.31 310.44,189.37 311.41,189.15 312.37,189.26 313.34,189.16 314.30,189.25 315.26,189.24 316.23,189.44 317.19,189.47 318.16,189.59 319.12,189.81 320.08,189.67 321.05,190.02 322.01,189.98 322.98,190.06 323.94,190.34 324.90,190.70 325.87,190.65 326.83,190.90 327.80,191.25 328.76,191.48 329.72,191.48 330.69,191.80 331.65,191.60 332.62,191.85 333.58,191.93 334.54,192.04 335.51,192.01 336.47,191.97 337.44,192.22 338.40,192.21 339.36,192.14 340.33,192.23 341.29,192.10 342.26,192.07 343.22,192.05 344.18,191.89 345.15,191.84 346.11,191.88 347.08,191.42 348.04,191.47 349.00,191.25 349.97,191.03 350.93,190.57 351.90,190.25 352.86,190.06 353.82,189.71 354.79,189.40 355.75,188.67 356.72,188.47 357.68,187.87 358.64,187.46 359.61,186.99 360.57,186.49 361.54,186.04 362.50,185.57 363.46,184.86 364.43,184.22 365.39,183.73 366.36,183.34 367.32,182.63 368.28,182.34 369.25,181.70 370.21,181.03 371.18,180.48 372.14,180.13 373.10,179.48 374.07,179.11 375.03,178.62 376.00,178.14 376.96,177.56 377.92,177.23 378.89,176.93 379.85,176.44 380.82,176.09 381.78,175.83 382.74,175.32 383.71,174.97 384.67,174.73 385.64,174.31 386.60,174.35 387.56,173.91 388.53,173.60 389.49,173.46 390.46,173.29 391.42,172.88 392.38,172.76 393.35,172.61 394.31,172.49 395.28,171.97 396.24,172.01 397.20,171.91 398.17,171.70 399.13,171.51 400.10,171.13 401.06,171.22 402.02,171.03 402.99,170.95 403.95,170.69 404.92,170.65 405.88,170.47 406.84,170.21 407.81,170.03 408.77,169.95 409.74,170.12 410.70,169.89 411.66,169.62 412.63,169.81 413.59,169.66 414.56,169.47 415.52,169.42 416.48,169.21 417.45,169.15 418.41,169.16 419.38,169.17 420.34,169.11 421.30,169.02 422.27,169.03 423.23,168.75 424.20,168.87 425.16,168.55 426.12,168.58 427.09,168.74 428.05,168.53 429.02,168.44 429.98,168.60 430.94,168.39 431.91,168.51 432.87,168.20 433.84,168.42 434.80,168.14" fill="none" stroke="#a81e40" stroke-width="0.6" stroke-linejoin="round" />
<polyline points="290.20,188.96 290.68,189.32 291.16,189.24 291.65,189.02 292.13,189.12 292.61,189.07 293.09,188.95 293.57,189.39 294.06,188.94 294.54,189.07 295.02,189.12 295.50,189.11 295.98,188.88 296.47,189.34 296.95,189.13 297.43,189.01 297.91,188.82 298.39,189.11 298.88,188.88 299.36,188.81 299.84,188.77 300.32,188.69 300.80,189.28 301.29,189.06 301.77,188.91 302.25,189.63 302.73,189.22 303.21,189.23 303.70,189.30 304.18,189.85 304.66,189.96 305.14,189.71 305.62,189.97 306.11,190.02 306.59,190.06 307.07,190.26 307.55,190.37 308.03,190.24 308.52,190.39 309.00,190.53 309.48,190.85 309.96,190.63 310.44,190.64 310.93,190.52 311.41,190.27 311.89,190.15 312.37,189.63 312.85,189.68 313.34,189.11 313.82,189.09 314.30,188.20 314.78,187.62 315.26,186.90 315.75,186.07 316.23,185.12 316.71,184.77 317.19,183.86 317.67,182.45 318.16,181.47 318.64,180.47 319.12,178.75 319.60,178.14 320.08,177.14 320.57,176.79 321.05,174.72 321.53,174.42 322.01,172.93 322.49,171.40 322.98,170.78 323.46,169.73 323.94,168.72 324.42,168.69 324.90,167.35 325.39,167.24 325.87,166.25 326.35,165.92 326.83,166.15 327.31,165.15 327.80,165.95 328.28,164.72 328.76,165.40 329.24,162.98 329.72,164.25 330.21,162.53 330.69,161.61 331.17,164.60 331.65,162.87 332.13,162.19 332.62,160.97 333.10,162.23 333.58,161.50 334.06,160.84 334.54,161.06 335.03,160.02 335.51,160.46 335.99,160.20 336.47,158.36 336.95,160.08 337.44,158.94 337.92,158.86 338.40,159.05 338.88,160.37 339.36,158.22 339.85,158.48 340.33,160.33 340.81,156.99 341.29,159.31 341.77,158.73 342.26,158.23 342.74,158.08 343.22,158.41 343.70,159.22 344.18,157.84 344.67,158.07 345.15,157.12 345.63,156.81 346.11,156.30 346.59,156.38 347.08,158.20 347.56,155.89 348.04,156.03 348.52,155.01 349.00,156.93 349.49,156.94 349.97,153.50 350.45,155.33 350.93,156.24 351.41,155.82 351.90,155.16 352.38,153.61 352.86,154.21 353.34,155.31 353.82,155.86 354.31,153.96 354.79,154.17 355.27,153.62 355.75,153.33 356.23,154.99 356.72,153.91 357.20,154.88 357.68,152.89 358.16,155.29 358.64,153.72 359.13,152.60 359.61,154.29 360.09,154.85 360.57,154.17 361.05,153.93 361.54,154.29 362.02,153.62 362.50,152.93 362.98,154.06 363.46,151.72 363.95,153.11 364.43,152.70 364.91,151.71 365.39,151.51 365.87,151.36 366.36,151.13 366.84,151.96 367.32,152.87 367.80,150.51 368.28,150.98 368.77,150.86 369.25,152.02 369.73,152.47 370.21,151.00 370.69,150.86 371.18,151.95 371.66,152.03 372.14,150.23 372.62,151.18 373.10,150.95 373.59,151.64 374.07,149.90 374.55,151.40 375.03,150.65 375.51,150.46 376.00,151.59 376.48,149.91 376.96,150.51 377.44,150.27 377.92,151.37 378.41,150.56 378.89,151.54 379.37,150.08 379.85,150.85 380.33,151.63 380.82,150.25 381.30,149.66 381.78,150.04 382.26,150.46 382.74,149.89 383.23,149.86 383.71,149.51 384.19,151.17 384.67,148.76 385.15,150.63 385.64,150.49 386.12,148.99 386.60,149.96 387.08,150.57 387.56,149.47 388.05,150.75 388.53,148.85 389.01,149.47 389.49,150.20 389.97,149.86 390.46,147.71 390.94,150.87 391.42,151.73 391.90,149.68 392.38,149.95 392.87,150.63 393.35,148.07 393.83,147.32 394.31,148.41 394.79,149.88 395.28,149.61 395.76,149.03 396.24,150.71 396.72,150.58 397.20,149.84 397.69,148.64 398.17,150.51 398.65,150.28 399.13,148.69 399.61,148.34 400.10,149.22 400.58,149.23 401.06,148.62 401.54,149.75 402.02,148.37 402.51,149.86 402.99,148.76 403.47,148.66 403.95,148.22 404.43,148.27 404.92,148.67 405.40,150.52 405.88,149.29 406.36,149.31 406.84,149.49 407.33,150.03 407.81,148.88 408.29,148.27 408.77,149.25 409.25,148.38 409.74,148.12 410.22,147.54 410.70,146.53 411.18,147.45 411.66,148.82 412.15,146.26 412.63,148.37 413.11,148.48 413.59,146.83 414.07,149.37 414.56,150.33 415.04,148.57 415.52,148.44 416.00,148.16 416.48,147.66 416.97,147.44 417.45,146.93 417.93,149.58 418.41,147.39 418.89,147.42 419.38,147.48 419.86,147.54 420.34,148.61 420.82,147.13 421.30,147.08 421.79,146.73 422.27,147.80 422.75,145.76 423.23,148.92 423.71,147.71 424.20,147.72 424.68,148.71 425.16,147.79 425.64,147.23 426.12,147.93 426.61,146.99 427.09,147.77 427.57,148.60 428.05,147.85 428.53,148.39 429.02,146.81 429.50,147.20 429.98,149.27 430.46,146.14 430.94,147.28 431.43,146.82 431.91,147.03 432.39,146.79 432.87,145.14 433.35,147.96 433.84,147.32 434.32,147.02 434.80,148.65" fill="none" stroke="#1a3c62" stroke-width="1.05" stroke-linejoin="round" />
<text x="418.00" y="142.60" font-size="6.58" text-anchor="start" font-weight="normal" font-style="normal" fill="#231f20"  textLength="19.50" lengthAdjust="spacingAndGlyphs">Control</text>
<text x="419.50" y="162.30" font-size="6.47" text-anchor="start" font-weight="normal" font-style="normal" fill="#231f20"  textLength="18.52" lengthAdjust="spacingAndGlyphs">Patient</text>
<line x1="108.40" y1="232.20" x2="258.00" y2="232.20" stroke="#c4c4c4" stroke-width="1.2" />
<line x1="108.40" y1="292.40" x2="258.00" y2="292.40" stroke="#9a9a9a" stroke-width="1.0" stroke-dasharray="0.7,0.6"/>
<line x1="108.40" y1="226.50" x2="108.40" y2="303.30" stroke="#231f20" stroke-width="1.25" />
<line x1="107.80" y1="302.70" x2="258.00" y2="302.70" stroke="#231f20" stroke-width="1.3" />
<line x1="105.40" y1="231.90" x2="108.40" y2="231.90" stroke="#231f20" stroke-width="0.9" />
<text x="102.90" y="234.10" font-size="6.2" text-anchor="end" font-weight="normal" font-style="normal" fill="#231f20" >100</text>
<line x1="105.40" y1="262.15" x2="108.40" y2="262.15" stroke="#231f20" stroke-width="0.9" />
<text x="102.90" y="264.35" font-size="6.2" text-anchor="end" font-weight="normal" font-style="normal" fill="#231f20" >50</text>
<line x1="105.40" y1="292.40" x2="108.40" y2="292.40" stroke="#231f20" stroke-width="0.9" />
<text x="102.90" y="294.60" font-size="6.2" text-anchor="end" font-weight="normal" font-style="normal" fill="#231f20" >0</text>
<line x1="108.40" y1="302.70" x2="108.40" y2="305.30" stroke="#231f20" stroke-width="0.9" />
<text x="108.40" y="314.00" font-size="6.2" text-anchor="middle" font-weight="normal" font-style="normal" fill="#231f20" >0</text>
<line x1="132.60" y1="302.70" x2="132.60" y2="305.30" stroke="#231f20" stroke-width="0.9" />
<text x="132.60" y="314.00" font-size="6.2" text-anchor="middle" font-weight="normal" font-style="normal" fill="#231f20" >50</text>
<line x1="156.80" y1="302.70" x2="156.80" y2="305.30" stroke="#231f20" stroke-width="0.9" />
<text x="156.80" y="314.00" font-size="6.2" text-anchor="middle" font-weight="normal" font-style="normal" fill="#231f20" >100</text>
<line x1="181.00" y1="302.70" x2="181.00" y2="305.30" stroke="#231f20" stroke-width="0.9" />
<text x="181.00" y="314.00" font-size="6.2" text-anchor="middle" font-weight="normal" font-style="normal" fill="#231f20" >150</text>
<line x1="205.20" y1="302.70" x2="205.20" y2="305.30" stroke="#231f20" stroke-width="0.9" />
<text x="205.20" y="314.00" font-size="6.2" text-anchor="middle" font-weight="normal" font-style="normal" fill="#231f20" >200</text>
<line x1="229.40" y1="302.70" x2="229.40" y2="305.30" stroke="#231f20" stroke-width="0.9" />
<text x="229.40" y="314.00" font-size="6.2" text-anchor="middle" font-weight="normal" font-style="normal" fill="#231f20" >250</text>
<line x1="253.60" y1="302.70" x2="253.60" y2="305.30" stroke="#231f20" stroke-width="0.9" />
<text x="253.60" y="314.00" font-size="6.2" text-anchor="middle" font-weight="normal" font-style="normal" fill="#231f20" >300</text>
<text x="114.00" y="239.50" font-size="6.63" text-anchor="start" font-weight="normal" font-style="normal" fill="#231f20"  textLength="36.62" lengthAdjust="spacingAndGlyphs">U46619 2mM</text>
<polyline points="108.40,292.27 109.37,292.60 110.34,292.86 111.30,293.12 112.27,293.71 113.24,294.23 114.21,294.93 115.18,295.09 116.14,295.13 117.11,294.60 118.08,294.22 119.05,293.92 120.02,293.26 120.98,292.74 121.95,292.10 122.92,291.17 123.89,290.78 124.86,290.14 125.82,289.26 126.79,289.00 127.76,288.66 128.73,288.24 129.70,287.88 130.66,287.34 131.63,287.30 132.60,287.00 133.57,286.57 134.54,286.32 135.50,285.92 136.47,285.73 137.44,285.69 138.41,285.53 139.38,285.11 140.34,284.86 141.31,285.02 142.28,284.58 143.25,284.36 144.22,284.28 145.18,284.28 146.15,283.93 147.12,283.83 148.09,283.92 149.06,283.66 150.02,283.72 150.99,283.70 151.96,283.51 152.93,283.44 153.90,283.34 154.86,283.19 155.83,283.07 156.80,282.98 157.77,282.95 158.74,282.92 159.70,282.98 160.67,283.15 161.64,283.21 162.61,283.07 163.58,283.13 164.54,283.12 165.51,283.37 166.48,283.39 167.45,283.18 168.42,283.35 169.38,283.38 170.35,283.67 171.32,283.63 172.29,283.52 173.26,283.68 174.22,283.63 175.19,284.00 176.16,283.99 177.13,283.96 178.10,284.20 179.06,284.19 180.03,284.39 181.00,284.67 181.97,284.80 182.94,284.60 183.90,285.04 184.87,285.15 185.84,285.23 186.81,285.23 187.78,285.32 188.74,285.60 189.71,285.73 190.68,285.77 191.65,286.09 192.62,286.20 193.58,286.24 194.55,286.37 195.52,286.71 196.49,286.82 197.46,286.94 198.42,286.86 199.39,287.00 200.36,287.03 201.33,287.24 202.30,287.55 203.26,287.50 204.23,287.55 205.20,287.91 206.17,288.16 207.14,288.15 208.10,288.31 209.07,288.47 210.04,288.64 211.01,288.73 211.98,288.58 212.94,288.99 213.91,288.90 214.88,289.16 215.85,289.28 216.82,289.17 217.78,289.47 218.75,289.62 219.72,289.63 220.69,289.65 221.66,289.81 222.62,289.80 223.59,290.06 224.56,290.12 225.53,290.14 226.50,290.33 227.46,290.33 228.43,290.51 229.40,290.72 230.37,290.81 231.34,290.65 232.30,290.74 233.27,290.75 234.24,290.92 235.21,291.04 236.18,291.26 237.14,291.09 238.11,291.42 239.08,291.38 240.05,291.56 241.02,291.54 241.98,291.64 242.95,291.66 243.92,291.63 244.89,291.76 245.86,291.93 246.82,291.81 247.79,291.89 248.76,291.93 249.73,292.29 250.70,292.14 251.66,292.11 252.63,292.42 253.60,292.51" fill="none" stroke="#e27a92" stroke-width="1.5" stroke-linejoin="round" />
<polyline points="108.40,292.27 109.37,292.60 110.34,292.86 111.30,293.12 112.27,293.71 113.24,294.23 114.21,294.93 115.18,295.09 116.14,295.13 117.11,294.60 118.08,294.22 119.05,293.92 120.02,293.26 120.98,292.74 121.95,292.10 122.92,291.17 123.89,290.78 124.86,290.14 125.82,289.26 126.79,289.00 127.76,288.66 128.73,288.24 129.70,287.88 130.66,287.34 131.63,287.30 132.60,287.00 133.57,286.57 134.54,286.32 135.50,285.92 136.47,285.73 137.44,285.69 138.41,285.53 139.38,285.11 140.34,284.86 141.31,285.02 142.28,284.58 143.25,284.36 144.22,284.28 145.18,284.28 146.15,283.93 147.12,283.83 148.09,283.92 149.06,283.66 150.02,283.72 150.99,283.70 151.96,283.51 152.93,283.44 153.90,283.34 154.86,283.19 155.83,283.07 156.80,282.98 157.77,282.95 158.74,282.92 159.70,282.98 160.67,283.15 161.64,283.21 162.61,283.07 163.58,283.13 164.54,283.12 165.51,283.37 166.48,283.39 167.45,283.18 168.42,283.35 169.38,283.38 170.35,283.67 171.32,283.63 172.29,283.52 173.26,283.68 174.22,283.63 175.19,284.00 176.16,283.99 177.13,283.96 178.10,284.20 179.06,284.19 180.03,284.39 181.00,284.67 181.97,284.80 182.94,284.60 183.90,285.04 184.87,285.15 185.84,285.23 186.81,285.23 187.78,285.32 188.74,285.60 189.71,285.73 190.68,285.77 191.65,286.09 192.62,286.20 193.58,286.24 194.55,286.37 195.52,286.71 196.49,286.82 197.46,286.94 198.42,286.86 199.39,287.00 200.36,287.03 201.33,287.24 202.30,287.55 203.26,287.50 204.23,287.55 205.20,287.91 206.17,288.16 207.14,288.15 208.10,288.31 209.07,288.47 210.04,288.64 211.01,288.73 211.98,288.58 212.94,288.99 213.91,288.90 214.88,289.16 215.85,289.28 216.82,289.17 217.78,289.47 218.75,289.62 219.72,289.63 220.69,289.65 221.66,289.81 222.62,289.80 223.59,290.06 224.56,290.12 225.53,290.14 226.50,290.33 227.46,290.33 228.43,290.51 229.40,290.72 230.37,290.81 231.34,290.65 232.30,290.74 233.27,290.75 234.24,290.92 235.21,291.04 236.18,291.26 237.14,291.09 238.11,291.42 239.08,291.38 240.05,291.56 241.02,291.54 241.98,291.64 242.95,291.66 243.92,291.63 244.89,291.76 245.86,291.93 246.82,291.81 247.79,291.89 248.76,291.93 249.73,292.29 250.70,292.14 251.66,292.11 252.63,292.42 253.60,292.51" fill="none" stroke="#a81e40" stroke-width="0.6" stroke-linejoin="round" />
<polyline points="108.40,292.03 108.88,292.83 109.37,293.57 109.85,293.74 110.34,294.67 110.82,295.11 111.30,295.73 111.79,296.12 112.27,296.76 112.76,297.19 113.24,297.14 113.72,297.12 114.21,296.79 114.69,296.14 115.18,296.12 115.66,295.35 116.14,294.67 116.63,294.26 117.11,293.56 117.60,292.88 118.08,292.40 118.56,291.55 119.05,290.89 119.53,290.16 120.02,289.29 120.50,288.77 120.98,288.06 121.47,287.49 121.95,286.39 122.44,285.96 122.92,285.33 123.40,284.12 123.89,283.52 124.37,282.56 124.86,281.95 125.34,281.56 125.82,280.74 126.31,279.98 126.79,279.51 127.28,278.82 127.76,278.30 128.24,277.36 128.73,276.66 129.21,276.40 129.70,276.06 130.18,275.15 130.66,274.59 131.15,273.77 131.63,273.45 132.12,272.98 132.60,272.16 133.08,271.43 133.57,270.97 134.05,270.57 134.54,269.89 135.02,269.35 135.50,268.46 135.99,268.24 136.47,267.84 136.96,266.60 137.44,266.50 137.92,266.10 138.41,265.49 138.89,264.64 139.38,264.35 139.86,264.07 140.34,263.32 140.83,263.08 141.31,262.35 141.80,262.19 142.28,262.35 142.76,261.59 143.25,261.01 143.73,260.59 144.22,260.11 144.70,260.44 145.18,260.15 145.67,259.09 146.15,259.31 146.64,259.66 147.12,257.67 147.60,258.72 148.09,257.70 148.57,256.83 149.06,255.72 149.54,255.83 150.02,255.41 150.51,255.68 150.99,255.20 151.48,255.82 151.96,255.80 152.44,254.48 152.93,253.69 153.41,254.88 153.90,254.17 154.38,254.25 154.86,253.97 155.35,254.48 155.83,254.60 156.32,252.57 156.80,253.34 157.28,254.64 157.77,253.03 158.25,254.38 158.74,253.51 159.22,252.16 159.70,252.28 160.19,253.13 160.67,251.63 161.16,251.44 161.64,251.07 162.12,253.06 162.61,251.42 163.09,251.34 163.58,251.68 164.06,251.04 164.54,250.89 165.03,251.75 165.51,251.71 166.00,250.88 166.48,252.35 166.96,250.88 167.45,251.46 167.93,250.74 168.42,250.97 168.90,250.42 169.38,250.52 169.87,251.05 170.35,250.70 170.84,250.96 171.32,250.39 171.80,250.97 172.29,250.17 172.77,250.97 173.26,249.81 173.74,249.84 174.22,249.60 174.71,250.63 175.19,250.33 175.68,249.49 176.16,249.74 176.64,250.10 177.13,248.30 177.61,248.73 178.10,249.54 178.58,247.58 179.06,249.96 179.55,249.04 180.03,247.73 180.52,247.67 181.00,249.44 181.48,249.16 181.97,247.47 182.45,248.67 182.94,249.00 183.42,248.55 183.90,247.87 184.39,246.79 184.87,247.39 185.36,248.48 185.84,248.82 186.32,247.74 186.81,246.73 187.29,247.29 187.78,246.24 188.26,246.60 188.74,245.83 189.23,245.36 189.71,247.72 190.20,246.62 190.68,246.09 191.16,247.96 191.65,246.06 192.13,245.87 192.62,246.08 193.10,245.63 193.58,245.30 194.07,245.13 194.55,246.62 195.04,245.55 195.52,244.98 196.00,246.81 196.49,246.38 196.97,245.15 197.46,246.06 197.94,246.16 198.42,244.76 198.91,244.56 199.39,244.98 199.88,244.55 200.36,245.54 200.84,246.37 201.33,246.16 201.81,244.10 202.30,245.16 202.78,245.44 203.26,244.29 203.75,245.67 204.23,245.10 204.72,244.51 205.20,243.80 205.68,244.06 206.17,244.38 206.65,245.26 207.14,244.53 207.62,244.34 208.10,245.06 208.59,244.17 209.07,243.85 209.56,244.18 210.04,244.20 210.52,244.50 211.01,244.92 211.49,243.66 211.98,243.99 212.46,243.88 212.94,243.63 213.43,243.75 213.91,242.46 214.40,244.06 214.88,244.21 215.36,245.22 215.85,243.92 216.33,243.13 216.82,242.89 217.30,244.24 217.78,242.86 218.27,243.73 218.75,244.35 219.24,242.72 219.72,242.94 220.20,243.51 220.69,243.18 221.17,243.00 221.66,244.60 222.14,243.63 222.62,243.35 223.11,243.10 223.59,243.26 224.08,243.82 224.56,241.52 225.04,241.76 225.53,243.15 226.01,243.37 226.50,242.85 226.98,242.21 227.46,243.20 227.95,242.34 228.43,242.33 228.92,241.36 229.40,243.31 229.88,243.86 230.37,241.48 230.85,242.40 231.34,242.35 231.82,242.85 232.30,242.99 232.79,241.71 233.27,241.84 233.76,242.04 234.24,242.62 234.72,241.79 235.21,241.31 235.69,243.55 236.18,242.13 236.66,241.75 237.14,242.57 237.63,242.27 238.11,242.23 238.60,242.80 239.08,242.52 239.56,241.39 240.05,241.54 240.53,241.70 241.02,241.43 241.50,240.36 241.98,239.71 242.47,241.64 242.95,241.75 243.44,239.42 243.92,241.44 244.40,240.48 244.89,240.69 245.37,240.37 245.86,242.02 246.34,240.44 246.82,240.73 247.31,241.16 247.79,241.57 248.28,241.82 248.76,240.99 249.24,240.74 249.73,239.86 250.21,241.28 250.70,241.06 251.18,241.03 251.66,240.16 252.15,241.15 252.63,241.59 253.12,240.45 253.60,242.31" fill="none" stroke="#1a3c62" stroke-width="1.05" stroke-linejoin="round" />
<text x="228.50" y="237.90" font-size="6.58" text-anchor="start" font-weight="normal" font-style="normal" fill="#231f20"  textLength="19.50" lengthAdjust="spacingAndGlyphs">Control</text>
<text x="231.20" y="277.70" font-size="6.47" text-anchor="start" font-weight="normal" font-style="normal" fill="#231f20"  textLength="18.52" lengthAdjust="spacingAndGlyphs">Patient</text>
<line x1="290.20" y1="231.60" x2="440.00" y2="231.60" stroke="#9a9a9a" stroke-width="1.0" stroke-dasharray="0.7,0.6"/>
<line x1="290.20" y1="294.40" x2="440.00" y2="294.40" stroke="#9a9a9a" stroke-width="1.0" stroke-dasharray="0.7,0.6"/>
<line x1="290.20" y1="225.00" x2="290.20" y2="303.40" stroke="#231f20" stroke-width="1.25" />
<line x1="289.60" y1="302.80" x2="440.00" y2="302.80" stroke="#231f20" stroke-width="1.3" />
<line x1="287.20" y1="231.60" x2="290.20" y2="231.60" stroke="#231f20" stroke-width="0.9" />
<text x="284.70" y="233.80" font-size="6.2" text-anchor="end" font-weight="normal" font-style="normal" fill="#231f20" >100</text>
<line x1="287.20" y1="263.00" x2="290.20" y2="263.00" stroke="#231f20" stroke-width="0.9" />
<text x="284.70" y="265.20" font-size="6.2" text-anchor="end" font-weight="normal" font-style="normal" fill="#231f20" >50</text>
<line x1="287.20" y1="294.40" x2="290.20" y2="294.40" stroke="#231f20" stroke-width="0.9" />
<text x="284.70" y="296.60" font-size="6.2" text-anchor="end" font-weight="normal" font-style="normal" fill="#231f20" >0</text>
<line x1="290.20" y1="302.80" x2="290.20" y2="305.40" stroke="#231f20" stroke-width="0.9" />
<text x="290.20" y="314.10" font-size="6.2" text-anchor="middle" font-weight="normal" font-style="normal" fill="#231f20" >0</text>
<line x1="311.90" y1="302.80" x2="311.90" y2="305.40" stroke="#231f20" stroke-width="0.9" />
<text x="311.90" y="314.10" font-size="6.2" text-anchor="middle" font-weight="normal" font-style="normal" fill="#231f20" >50</text>
<line x1="333.60" y1="302.80" x2="333.60" y2="305.40" stroke="#231f20" stroke-width="0.9" />
<text x="333.60" y="314.10" font-size="6.2" text-anchor="middle" font-weight="normal" font-style="normal" fill="#231f20" >100</text>
<line x1="355.30" y1="302.80" x2="355.30" y2="305.40" stroke="#231f20" stroke-width="0.9" />
<text x="355.30" y="314.10" font-size="6.2" text-anchor="middle" font-weight="normal" font-style="normal" fill="#231f20" >150</text>
<line x1="377.00" y1="302.80" x2="377.00" y2="305.40" stroke="#231f20" stroke-width="0.9" />
<text x="377.00" y="314.10" font-size="6.2" text-anchor="middle" font-weight="normal" font-style="normal" fill="#231f20" >200</text>
<line x1="398.70" y1="302.80" x2="398.70" y2="305.40" stroke="#231f20" stroke-width="0.9" />
<text x="398.70" y="314.10" font-size="6.2" text-anchor="middle" font-weight="normal" font-style="normal" fill="#231f20" >250</text>
<line x1="420.40" y1="302.80" x2="420.40" y2="305.40" stroke="#231f20" stroke-width="0.9" />
<text x="420.40" y="314.10" font-size="6.2" text-anchor="middle" font-weight="normal" font-style="normal" fill="#231f20" >300</text>
<text x="295.80" y="238.70" font-size="6.63" text-anchor="start" font-weight="normal" font-style="normal" fill="#231f20"  textLength="36.62" lengthAdjust="spacingAndGlyphs">U46619 2mM</text>
<polyline points="290.20,293.93 291.07,294.31 291.94,294.76 292.80,295.06 293.67,295.72 294.54,296.10 295.41,296.71 296.28,296.82 297.14,296.79 298.01,296.81 298.88,296.35 299.75,295.93 300.62,295.57 301.48,295.10 302.35,294.18 303.22,293.81 304.09,293.32 304.96,292.59 305.82,292.08 306.69,291.61 307.56,291.11 308.43,290.93 309.30,290.53 310.16,290.09 311.03,289.36 311.90,289.31 312.77,288.94 313.64,288.68 314.50,288.38 315.37,288.12 316.24,287.76 317.11,287.61 317.98,287.35 318.84,286.93 319.71,287.05 320.58,286.66 321.45,286.55 322.32,286.49 323.18,286.37 324.05,286.19 324.92,286.17 325.79,286.22 326.66,286.10 327.52,286.07 328.39,285.95 329.26,285.68 330.13,285.85 331.00,285.95 331.86,285.77 332.73,285.63 333.60,285.75 334.47,285.66 335.34,285.89 336.20,285.92 337.07,285.71 337.94,285.97 338.81,285.91 339.68,285.93 340.54,286.04 341.41,286.15 342.28,286.22 343.15,285.92 344.02,286.09 344.88,286.05 345.75,286.29 346.62,286.18 347.49,286.29 348.36,286.45 349.22,286.56 350.09,286.65 350.96,286.84 351.83,286.88 352.70,286.84 353.56,287.14 354.43,287.00 355.30,287.23 356.17,287.30 357.04,287.33 357.90,287.52 358.77,287.82 359.64,287.90 360.51,288.12 361.38,288.23 362.24,288.02 363.11,288.29 363.98,288.29 364.85,288.50 365.72,288.82 366.58,288.72 367.45,288.88 368.32,289.20 369.19,289.49 370.06,289.54 370.92,289.74 371.79,289.80 372.66,290.05 373.53,289.94 374.40,289.96 375.26,290.37 376.13,290.28 377.00,290.46 377.87,290.61 378.74,290.56 379.60,290.86 380.47,290.80 381.34,291.20 382.21,290.95 383.08,291.35 383.94,291.51 384.81,291.28 385.68,291.44 386.55,291.55 387.42,291.61 388.28,291.85 389.15,292.04 390.02,292.06 390.89,291.91 391.76,291.98 392.62,292.35 393.49,292.36 394.36,292.44 395.23,292.35 396.10,292.78 396.96,292.55 397.83,292.84 398.70,292.81 399.57,293.05 400.44,293.14 401.30,292.91 402.17,293.13 403.04,293.02 403.91,293.12 404.78,293.23 405.64,293.55 406.51,293.42 407.38,293.33 408.25,293.57 409.12,293.80 409.98,293.81 410.85,293.57 411.72,293.63 412.59,293.96 413.46,293.99 414.32,293.90 415.19,294.04 416.06,294.22 416.93,293.97 417.80,294.17 418.66,294.33 419.53,294.52 420.40,294.40" fill="none" stroke="#e27a92" stroke-width="1.5" stroke-linejoin="round" />
<polyline points="290.20,293.93 291.07,294.31 291.94,294.76 292.80,295.06 293.67,295.72 294.54,296.10 295.41,296.71 296.28,296.82 297.14,296.79 298.01,296.81 298.88,296.35 299.75,295.93 300.62,295.57 301.48,295.10 302.35,294.18 303.22,293.81 304.09,293.32 304.96,292.59 305.82,292.08 306.69,291.61 307.56,291.11 308.43,290.93 309.30,290.53 310.16,290.09 311.03,289.36 311.90,289.31 312.77,288.94 313.64,288.68 314.50,288.38 315.37,288.12 316.24,287.76 317.11,287.61 317.98,287.35 318.84,286.93 319.71,287.05 320.58,286.66 321.45,286.55 322.32,286.49 323.18,286.37 324.05,286.19 324.92,286.17 325.79,286.22 326.66,286.10 327.52,286.07 328.39,285.95 329.26,285.68 330.13,285.85 331.00,285.95 331.86,285.77 332.73,285.63 333.60,285.75 334.47,285.66 335.34,285.89 336.20,285.92 337.07,285.71 337.94,285.97 338.81,285.91 339.68,285.93 340.54,286.04 341.41,286.15 342.28,286.22 343.15,285.92 344.02,286.09 344.88,286.05 345.75,286.29 346.62,286.18 347.49,286.29 348.36,286.45 349.22,286.56 350.09,286.65 350.96,286.84 351.83,286.88 352.70,286.84 353.56,287.14 354.43,287.00 355.30,287.23 356.17,287.30 357.04,287.33 357.90,287.52 358.77,287.82 359.64,287.90 360.51,288.12 361.38,288.23 362.24,288.02 363.11,288.29 363.98,288.29 364.85,288.50 365.72,288.82 366.58,288.72 367.45,288.88 368.32,289.20 369.19,289.49 370.06,289.54 370.92,289.74 371.79,289.80 372.66,290.05 373.53,289.94 374.40,289.96 375.26,290.37 376.13,290.28 377.00,290.46 377.87,290.61 378.74,290.56 379.60,290.86 380.47,290.80 381.34,291.20 382.21,290.95 383.08,291.35 383.94,291.51 384.81,291.28 385.68,291.44 386.55,291.55 387.42,291.61 388.28,291.85 389.15,292.04 390.02,292.06 390.89,291.91 391.76,291.98 392.62,292.35 393.49,292.36 394.36,292.44 395.23,292.35 396.10,292.78 396.96,292.55 397.83,292.84 398.70,292.81 399.57,293.05 400.44,293.14 401.30,292.91 402.17,293.13 403.04,293.02 403.91,293.12 404.78,293.23 405.64,293.55 406.51,293.42 407.38,293.33 408.25,293.57 409.12,293.80 409.98,293.81 410.85,293.57 411.72,293.63 412.59,293.96 413.46,293.99 414.32,293.90 415.19,294.04 416.06,294.22 416.93,293.97 417.80,294.17 418.66,294.33 419.53,294.52 420.40,294.40" fill="none" stroke="#a81e40" stroke-width="0.6" stroke-linejoin="round" />
<polyline points="290.20,293.77 290.63,294.12 291.07,294.06 291.50,294.52 291.94,294.87 292.37,295.41 292.80,295.79 293.24,295.52 293.67,295.52 294.11,295.03 294.54,294.34 294.97,293.25 295.41,292.22 295.84,290.93 296.28,289.84 296.71,288.42 297.14,287.27 297.58,286.52 298.01,285.12 298.45,284.62 298.88,283.69 299.31,282.53 299.75,282.47 300.18,281.41 300.62,280.63 301.05,279.63 301.48,279.83 301.92,278.24 302.35,277.75 302.79,276.31 303.22,275.19 303.65,275.33 304.09,273.05 304.52,273.63 304.96,271.95 305.39,272.23 305.82,270.62 306.26,269.60 306.69,270.73 307.13,269.52 307.56,267.28 307.99,269.07 308.43,269.02 308.86,268.22 309.30,263.65 309.73,264.55 310.16,266.05 310.60,263.58 311.03,265.94 311.47,263.96 311.90,260.97 312.33,262.89 312.77,264.08 313.20,262.43 313.64,260.59 314.07,263.83 314.50,262.20 314.94,264.14 315.37,261.59 315.81,260.58 316.24,261.88 316.67,259.35 317.11,260.14 317.54,262.47 317.98,261.52 318.41,261.47 318.84,260.94 319.28,261.41 319.71,258.30 320.15,259.59 320.58,259.68 321.01,258.98 321.45,261.13 321.88,260.69 322.32,259.34 322.75,256.95 323.18,259.95 323.62,259.78 324.05,256.92 324.49,259.48 324.92,256.39 325.35,256.91 325.79,258.32 326.22,256.33 326.66,257.57 327.09,257.74 327.52,258.94 327.96,258.82 328.39,254.35 328.83,255.22 329.26,256.51 329.69,257.24 330.13,255.78 330.56,256.16 331.00,253.16 331.43,251.59 331.86,255.64 332.30,255.43 332.73,253.76 333.17,253.51 333.60,257.95 334.03,255.20 334.47,253.22 334.90,252.08 335.34,255.03 335.77,252.77 336.20,252.59 336.64,253.24 337.07,251.81 337.51,254.45 337.94,252.63 338.37,251.81 338.81,252.37 339.24,254.68 339.68,252.51 340.11,251.46 340.54,253.69 340.98,252.48 341.41,252.58 341.85,250.68 342.28,251.05 342.71,251.12 343.15,251.10 343.58,249.31 344.02,250.73 344.45,250.69 344.88,252.05 345.32,250.96 345.75,250.96 346.19,248.99 346.62,250.82 347.05,249.32 347.49,249.57 347.92,250.06 348.36,251.21 348.79,252.02 349.22,250.56 349.66,250.33 350.09,250.78 350.53,249.25 350.96,249.40 351.39,249.63 351.83,250.82 352.26,250.33 352.70,251.86 353.13,252.89 353.56,250.54 354.00,251.40 354.43,248.53 354.87,252.60 355.30,246.99 355.73,250.84 356.17,249.53 356.60,252.77 357.04,249.65 357.47,250.79 357.90,248.67 358.34,248.50 358.77,249.83 359.21,250.44 359.64,249.78 360.07,249.00 360.51,248.41 360.94,249.06 361.38,249.00 361.81,249.57 362.24,248.42 362.68,248.09 363.11,248.21 363.55,249.19 363.98,248.59 364.41,248.81 364.85,248.94 365.28,248.71 365.72,248.98 366.15,249.10 366.58,248.46 367.02,248.12 367.45,248.60 367.89,247.93 368.32,247.98 368.75,247.63 369.19,248.09 369.62,246.44 370.06,248.74 370.49,247.47 370.92,245.53 371.36,247.78 371.79,246.06 372.23,250.29 372.66,248.15 373.09,249.05 373.53,248.10 373.96,246.93 374.40,248.84 374.83,247.10 375.26,246.77 375.70,247.84 376.13,248.13 376.57,249.39 377.00,248.38 377.43,248.87 377.87,246.71 378.30,247.19 378.74,249.05 379.17,247.52 379.60,245.17 380.04,247.80 380.47,247.12 380.91,246.56 381.34,247.21 381.77,247.40 382.21,246.74 382.64,247.46 383.08,249.14 383.51,248.56 383.94,246.63 384.38,246.83 384.81,248.46 385.25,248.57 385.68,245.67 386.11,246.97 386.55,246.46 386.98,249.13 387.42,247.15 387.85,246.91 388.28,248.15 388.72,248.04 389.15,248.47 389.59,246.17 390.02,248.20 390.45,247.67 390.89,248.47 391.32,247.42 391.76,246.61 392.19,249.11 392.62,244.72 393.06,246.59 393.49,246.82 393.93,245.55 394.36,246.64 394.79,245.79 395.23,247.95 395.66,246.01 396.10,246.00 396.53,246.16 396.96,248.00 397.40,246.46 397.83,247.25 398.27,246.87 398.70,249.31 399.13,247.74 399.57,246.86 400.00,248.34 400.44,246.31 400.87,247.88 401.30,245.94 401.74,245.15 402.17,246.66 402.61,245.68 403.04,246.49 403.47,248.15 403.91,246.25 404.34,245.86 404.78,246.81 405.21,248.43 405.64,244.96 406.08,247.83 406.51,247.02 406.95,244.67 407.38,244.66 407.81,248.32 408.25,245.95 408.68,246.91 409.12,246.54 409.55,245.75 409.98,245.74 410.42,248.28 410.85,247.28 411.29,246.79 411.72,248.12 412.15,245.46 412.59,243.88 413.02,245.93 413.46,247.21 413.89,249.00 414.32,245.00 414.76,246.91 415.19,246.80 415.63,245.25 416.06,248.11 416.49,246.26 416.93,246.54 417.36,245.35 417.80,248.42 418.23,246.53 418.66,243.66 419.10,246.11 419.53,247.21 419.97,247.53 420.40,248.52 420.83,247.10 421.27,247.32 421.70,245.82 422.14,245.34 422.57,245.68 423.00,245.39 423.44,245.91 423.87,247.01 424.31,247.17 424.74,245.05 425.17,247.00 425.61,245.80 426.04,246.96 426.48,243.79 426.91,246.55 427.34,244.33 427.78,247.48 428.21,246.91 428.65,246.27 429.08,244.44 429.51,248.79 429.95,248.22 430.38,245.59 430.82,247.67 431.25,247.66 431.68,244.60 432.12,247.11 432.55,245.29 432.99,245.04 433.42,246.97 433.85,246.33 434.29,246.39 434.72,247.15 435.16,245.06 435.59,245.44 436.02,246.22 436.46,247.82" fill="none" stroke="#1a3c62" stroke-width="1.05" stroke-linejoin="round" />
<text x="411.20" y="239.40" font-size="6.58" text-anchor="start" font-weight="normal" font-style="normal" fill="#231f20"  textLength="19.50" lengthAdjust="spacingAndGlyphs">Control</text>
<text x="411.50" y="286.30" font-size="6.47" text-anchor="start" font-weight="normal" font-style="normal" fill="#231f20"  textLength="18.52" lengthAdjust="spacingAndGlyphs">Patient</text>
<text x="10.30" y="338.80" font-size="10.5" text-anchor="middle" font-weight="bold" font-style="normal" fill="#000" >B</text>
<line x1="55.80" y1="342.50" x2="55.80" y2="455.20" stroke="#231f20" stroke-width="1" />
<line x1="55.30" y1="454.70" x2="298.30" y2="454.70" stroke="#231f20" stroke-width="1" />
<line x1="53.30" y1="454.70" x2="55.80" y2="454.70" stroke="#231f20" stroke-width="0.9" />
<text x="50.20" y="457.50" font-size="6.3" text-anchor="end" font-weight="normal" font-style="normal" fill="#231f20" >0</text>
<line x1="53.30" y1="432.70" x2="55.80" y2="432.70" stroke="#231f20" stroke-width="0.9" />
<text x="50.20" y="435.50" font-size="6.3" text-anchor="end" font-weight="normal" font-style="normal" fill="#231f20" >1000</text>
<line x1="53.30" y1="410.70" x2="55.80" y2="410.70" stroke="#231f20" stroke-width="0.9" />
<text x="50.20" y="413.50" font-size="6.3" text-anchor="end" font-weight="normal" font-style="normal" fill="#231f20" >2000</text>
<line x1="53.30" y1="388.70" x2="55.80" y2="388.70" stroke="#231f20" stroke-width="0.9" />
<text x="50.20" y="391.50" font-size="6.3" text-anchor="end" font-weight="normal" font-style="normal" fill="#231f20" >3000</text>
<line x1="53.30" y1="366.70" x2="55.80" y2="366.70" stroke="#231f20" stroke-width="0.9" />
<text x="50.20" y="369.50" font-size="6.3" text-anchor="end" font-weight="normal" font-style="normal" fill="#231f20" >4000</text>
<line x1="53.30" y1="344.70" x2="55.80" y2="344.70" stroke="#231f20" stroke-width="0.9" />
<text x="50.20" y="347.50" font-size="6.3" text-anchor="end" font-weight="normal" font-style="normal" fill="#231f20" >5000</text>
<text transform="translate(20.4,399.7) rotate(-90)" font-size="6.2" text-anchor="middle" fill="#231f20" textLength="76.5" lengthAdjust="spacingAndGlyphs">α-granule content and release</text>
<text transform="translate(31.1,401.5) rotate(-90)" font-size="6.2" text-anchor="middle" fill="#231f20" textLength="91.5" lengthAdjust="spacingAndGlyphs">(β-thromboglobulin ng/10<tspan font-size="4.2" dy="-2.2">8</tspan><tspan dy="2.2"> platelets)</tspan></text>
<line x1="63.50" y1="362.30" x2="63.50" y2="365.82" stroke="#231f20" stroke-width="0.9" />
<line x1="61.50" y1="362.30" x2="65.50" y2="362.30" stroke="#231f20" stroke-width="0.9" />
<rect x="60.30" y="365.82" width="6.40" height="88.88" fill="#155387"/>
<line x1="74.50" y1="404.54" x2="74.50" y2="412.90" stroke="#231f20" stroke-width="0.9" />
<line x1="72.50" y1="404.54" x2="76.50" y2="404.54" stroke="#231f20" stroke-width="0.9" />
<rect x="71.30" y="412.90" width="6.40" height="41.80" fill="#cc1434"/>
<line x1="85.50" y1="408.06" x2="85.50" y2="409.82" stroke="#231f20" stroke-width="0.9" />
<line x1="83.50" y1="408.06" x2="87.50" y2="408.06" stroke="#231f20" stroke-width="0.9" />
<rect x="82.30" y="409.82" width="6.40" height="44.88" fill="#3fb349"/>
<line x1="74.50" y1="454.70" x2="74.50" y2="457.20" stroke="#231f20" stroke-width="0.9" />
<text x="74.50" y="398.50" font-size="6" text-anchor="middle" font-weight="normal" font-style="normal" fill="#231f20" >**</text>
<text x="85.50" y="404.10" font-size="6" text-anchor="middle" font-weight="normal" font-style="normal" fill="#231f20" >**</text>
<line x1="104.40" y1="400.80" x2="104.40" y2="405.64" stroke="#231f20" stroke-width="0.9" />
<line x1="102.40" y1="400.80" x2="106.40" y2="400.80" stroke="#231f20" stroke-width="0.9" />
<rect x="101.20" y="405.64" width="6.40" height="49.06" fill="#155387"/>
<line x1="115.40" y1="435.34" x2="115.40" y2="439.08" stroke="#231f20" stroke-width="0.9" />
<line x1="113.40" y1="435.34" x2="117.40" y2="435.34" stroke="#231f20" stroke-width="0.9" />
<rect x="112.20" y="439.08" width="6.40" height="15.62" fill="#cc1434"/>
<line x1="126.40" y1="425.22" x2="126.40" y2="427.86" stroke="#231f20" stroke-width="0.9" />
<line x1="124.40" y1="425.22" x2="128.40" y2="425.22" stroke="#231f20" stroke-width="0.9" />
<rect x="123.20" y="427.86" width="6.40" height="26.84" fill="#3fb349"/>
<line x1="115.40" y1="454.70" x2="115.40" y2="457.20" stroke="#231f20" stroke-width="0.9" />
<text x="115.40" y="427.70" font-size="6" text-anchor="middle" font-weight="normal" font-style="normal" fill="#231f20" >*</text>
<text x="126.40" y="419.20" font-size="6" text-anchor="middle" font-weight="normal" font-style="normal" fill="#231f20" >*</text>
<line x1="145.20" y1="390.24" x2="145.20" y2="393.10" stroke="#231f20" stroke-width="0.9" />
<line x1="143.20" y1="390.24" x2="147.20" y2="390.24" stroke="#231f20" stroke-width="0.9" />
<rect x="142.00" y="393.10" width="6.40" height="61.60" fill="#155387"/>
<line x1="156.20" y1="452.06" x2="156.20" y2="453.60" stroke="#231f20" stroke-width="0.9" />
<line x1="154.20" y1="452.06" x2="158.20" y2="452.06" stroke="#231f20" stroke-width="0.9" />
<rect x="153.00" y="453.60" width="6.40" height="1.10" fill="#cc1434"/>
<line x1="167.20" y1="450.30" x2="167.20" y2="452.06" stroke="#231f20" stroke-width="0.9" />
<line x1="165.20" y1="450.30" x2="169.20" y2="450.30" stroke="#231f20" stroke-width="0.9" />
<rect x="164.00" y="452.06" width="6.40" height="2.64" fill="#3fb349"/>
<line x1="156.20" y1="454.70" x2="156.20" y2="457.20" stroke="#231f20" stroke-width="0.9" />
<text x="156.20" y="443.80" font-size="6" text-anchor="middle" font-weight="normal" font-style="normal" fill="#231f20" >**</text>
<text x="167.20" y="443.80" font-size="6" text-anchor="middle" font-weight="normal" font-style="normal" fill="#231f20" >**</text>
<line x1="186.50" y1="384.74" x2="186.50" y2="387.60" stroke="#231f20" stroke-width="0.9" />
<line x1="184.50" y1="384.74" x2="188.50" y2="384.74" stroke="#231f20" stroke-width="0.9" />
<rect x="183.30" y="387.60" width="6.40" height="67.10" fill="#155387"/>
<line x1="197.50" y1="423.02" x2="197.50" y2="430.06" stroke="#231f20" stroke-width="0.9" />
<line x1="195.50" y1="423.02" x2="199.50" y2="423.02" stroke="#231f20" stroke-width="0.9" />
<rect x="194.30" y="430.06" width="6.40" height="24.64" fill="#cc1434"/>
<line x1="208.50" y1="427.20" x2="208.50" y2="428.74" stroke="#231f20" stroke-width="0.9" />
<line x1="206.50" y1="427.20" x2="210.50" y2="427.20" stroke="#231f20" stroke-width="0.9" />
<rect x="205.30" y="428.74" width="6.40" height="25.96" fill="#3fb349"/>
<line x1="197.50" y1="454.70" x2="197.50" y2="457.20" stroke="#231f20" stroke-width="0.9" />
<text x="197.50" y="414.10" font-size="6" text-anchor="middle" font-weight="normal" font-style="normal" fill="#231f20" >**</text>
<text x="208.50" y="414.10" font-size="6" text-anchor="middle" font-weight="normal" font-style="normal" fill="#231f20" >**</text>
<line x1="227.80" y1="393.98" x2="227.80" y2="396.40" stroke="#231f20" stroke-width="0.9" />
<line x1="225.80" y1="393.98" x2="229.80" y2="393.98" stroke="#231f20" stroke-width="0.9" />
<rect x="224.60" y="396.40" width="6.40" height="58.30" fill="#155387"/>
<line x1="238.80" y1="421.04" x2="238.80" y2="426.32" stroke="#231f20" stroke-width="0.9" />
<line x1="236.80" y1="421.04" x2="240.80" y2="421.04" stroke="#231f20" stroke-width="0.9" />
<rect x="235.60" y="426.32" width="6.40" height="28.38" fill="#cc1434"/>
<line x1="249.80" y1="432.04" x2="249.80" y2="433.36" stroke="#231f20" stroke-width="0.9" />
<line x1="247.80" y1="432.04" x2="251.80" y2="432.04" stroke="#231f20" stroke-width="0.9" />
<rect x="246.60" y="433.36" width="6.40" height="21.34" fill="#3fb349"/>
<line x1="238.80" y1="454.70" x2="238.80" y2="457.20" stroke="#231f20" stroke-width="0.9" />
<text x="238.80" y="415.40" font-size="6" text-anchor="middle" font-weight="normal" font-style="normal" fill="#231f20" >**</text>
<text x="249.80" y="424.20" font-size="6" text-anchor="middle" font-weight="normal" font-style="normal" fill="#231f20" >**</text>
<line x1="268.60" y1="400.80" x2="268.60" y2="404.10" stroke="#231f20" stroke-width="0.9" />
<line x1="266.60" y1="400.80" x2="270.60" y2="400.80" stroke="#231f20" stroke-width="0.9" />
<rect x="265.40" y="404.10" width="6.40" height="50.60" fill="#155387"/>
<line x1="279.60" y1="440.40" x2="279.60" y2="445.02" stroke="#231f20" stroke-width="0.9" />
<line x1="277.60" y1="440.40" x2="281.60" y2="440.40" stroke="#231f20" stroke-width="0.9" />
<rect x="276.40" y="445.02" width="6.40" height="9.68" fill="#cc1434"/>
<line x1="290.60" y1="441.50" x2="290.60" y2="443.92" stroke="#231f20" stroke-width="0.9" />
<line x1="288.60" y1="441.50" x2="292.60" y2="441.50" stroke="#231f20" stroke-width="0.9" />
<rect x="287.40" y="443.92" width="6.40" height="10.78" fill="#3fb349"/>
<line x1="279.60" y1="454.70" x2="279.60" y2="457.20" stroke="#231f20" stroke-width="0.9" />
<text x="279.60" y="430.20" font-size="6" text-anchor="middle" font-weight="normal" font-style="normal" fill="#231f20" >**</text>
<text x="290.60" y="430.20" font-size="6" text-anchor="middle" font-weight="normal" font-style="normal" fill="#231f20" >**</text>
<text x="74.50" y="466.00" font-size="6.67" text-anchor="middle" font-weight="normal" font-style="normal" fill="#231f20"  textLength="21.01" lengthAdjust="spacingAndGlyphs">Content</text>
<text x="115.40" y="466.00" font-size="6.67" text-anchor="middle" font-weight="normal" font-style="normal" fill="#231f20"  textLength="12.34" lengthAdjust="spacingAndGlyphs">ADP</text>
<text x="115.40" y="474.20" font-size="6.67" text-anchor="middle" font-weight="normal" font-style="normal" fill="#231f20"  textLength="13.46" lengthAdjust="spacingAndGlyphs">5 µM</text>
<text x="156.20" y="466.00" font-size="6.67" text-anchor="middle" font-weight="normal" font-style="normal" fill="#231f20"  textLength="32.02" lengthAdjust="spacingAndGlyphs">Epinephrine</text>
<text x="156.20" y="474.20" font-size="6.67" text-anchor="middle" font-weight="normal" font-style="normal" fill="#231f20"  textLength="20.13" lengthAdjust="spacingAndGlyphs">100 µM</text>
<text x="197.50" y="466.00" font-size="6.67" text-anchor="middle" font-weight="normal" font-style="normal" fill="#231f20"  textLength="23.68" lengthAdjust="spacingAndGlyphs">Collagen</text>
<text x="197.50" y="474.20" font-size="6.67" text-anchor="middle" font-weight="normal" font-style="normal" fill="#231f20"  textLength="21.34" lengthAdjust="spacingAndGlyphs">2 mg/ml</text>
<text x="238.80" y="466.00" font-size="6.67" text-anchor="middle" font-weight="normal" font-style="normal" fill="#231f20"  textLength="44.02" lengthAdjust="spacingAndGlyphs">Arachidonic acid</text>
<text x="238.80" y="474.20" font-size="6.67" text-anchor="middle" font-weight="normal" font-style="normal" fill="#231f20"  textLength="13.33" lengthAdjust="spacingAndGlyphs">1mM</text>
<text x="279.60" y="466.00" font-size="6.67" text-anchor="middle" font-weight="normal" font-style="normal" fill="#231f20"  textLength="21.02" lengthAdjust="spacingAndGlyphs">U46619</text>
<text x="279.60" y="474.20" font-size="6.67" text-anchor="middle" font-weight="normal" font-style="normal" fill="#231f20"  textLength="13.46" lengthAdjust="spacingAndGlyphs">1 µM</text>
<rect x="301.50" y="386.20" width="5.70" height="5.30" fill="#155387"/>
<text x="310.00" y="391.20" font-size="6.52" text-anchor="start" font-weight="normal" font-style="normal" fill="#231f20"  textLength="19.34" lengthAdjust="spacingAndGlyphs">Control</text>
<rect x="301.50" y="395.90" width="5.70" height="5.30" fill="#cc1434"/>
<text x="310.00" y="400.90" font-size="6.52" text-anchor="start" font-weight="normal" font-style="normal" fill="#231f20"  textLength="28.35" lengthAdjust="spacingAndGlyphs">Propositus</text>
<rect x="301.50" y="405.60" width="5.70" height="5.30" fill="#3fb349"/>
<text x="310.00" y="410.60" font-size="6.52" text-anchor="start" font-weight="normal" font-style="normal" fill="#231f20"  textLength="19.68" lengthAdjust="spacingAndGlyphs">Brother</text>
<text x="10.30" y="498.30" font-size="10.5" text-anchor="middle" font-weight="bold" font-style="normal" fill="#000" >C</text>
<line x1="55.80" y1="499.20" x2="55.80" y2="545.80" stroke="#231f20" stroke-width="1" />
<line x1="53.30" y1="545.80" x2="55.80" y2="545.80" stroke="#231f20" stroke-width="0.9" />
<text x="50.60" y="547.90" font-size="6.0" text-anchor="end" font-weight="normal" font-style="normal" fill="#231f20" >1.5</text>
<line x1="53.30" y1="534.72" x2="55.80" y2="534.72" stroke="#231f20" stroke-width="0.9" />
<text x="50.60" y="536.82" font-size="6.0" text-anchor="end" font-weight="normal" font-style="normal" fill="#231f20" >2.0</text>
<line x1="53.30" y1="523.64" x2="55.80" y2="523.64" stroke="#231f20" stroke-width="0.9" />
<text x="50.60" y="525.74" font-size="6.0" text-anchor="end" font-weight="normal" font-style="normal" fill="#231f20" >2.5</text>
<line x1="53.30" y1="512.56" x2="55.80" y2="512.56" stroke="#231f20" stroke-width="0.9" />
<text x="50.60" y="514.66" font-size="6.0" text-anchor="end" font-weight="normal" font-style="normal" fill="#231f20" >3.0</text>
<line x1="53.30" y1="501.48" x2="55.80" y2="501.48" stroke="#231f20" stroke-width="0.9" />
<text x="50.60" y="503.58" font-size="6.0" text-anchor="end" font-weight="normal" font-style="normal" fill="#231f20" >3.5</text>
<line x1="55.80" y1="553.80" x2="55.80" y2="615.50" stroke="#231f20" stroke-width="1" />
<line x1="55.80" y1="545.80" x2="58.30" y2="545.80" stroke="#231f20" stroke-width="0.9" />
<line x1="55.80" y1="553.80" x2="58.30" y2="553.80" stroke="#231f20" stroke-width="0.9" />
<line x1="55.30" y1="615.00" x2="294.60" y2="615.00" stroke="#231f20" stroke-width="1" />
<line x1="53.30" y1="615.00" x2="55.80" y2="615.00" stroke="#231f20" stroke-width="0.9" />
<text x="50.60" y="617.10" font-size="6.0" text-anchor="end" font-weight="normal" font-style="normal" fill="#231f20" >0.0</text>
<line x1="53.30" y1="594.60" x2="55.80" y2="594.60" stroke="#231f20" stroke-width="0.9" />
<text x="50.60" y="596.70" font-size="6.0" text-anchor="end" font-weight="normal" font-style="normal" fill="#231f20" >0.5</text>
<line x1="53.30" y1="574.20" x2="55.80" y2="574.20" stroke="#231f20" stroke-width="0.9" />
<text x="50.60" y="576.30" font-size="6.0" text-anchor="end" font-weight="normal" font-style="normal" fill="#231f20" >1.0</text>
<line x1="53.30" y1="553.80" x2="55.80" y2="553.80" stroke="#231f20" stroke-width="0.9" />
<text x="50.60" y="555.90" font-size="6.0" text-anchor="end" font-weight="normal" font-style="normal" fill="#231f20" >1.5</text>
<text transform="translate(25.4,561) rotate(-90)" font-size="6.2" text-anchor="middle" fill="#231f20" textLength="74.5" lengthAdjust="spacingAndGlyphs">δ-granule content and release</text>
<text transform="translate(36.2,560.7) rotate(-90)" font-size="6.2" text-anchor="middle" fill="#231f20" textLength="61.2" lengthAdjust="spacingAndGlyphs">(ATP nmoles/10<tspan font-size="4.2" dy="-2.2">8</tspan><tspan dy="2.2"> platelets)</tspan></text>
<rect x="60.30" y="528.07" width="6.20" height="17.73" fill="#155387"/>
<line x1="63.40" y1="511.45" x2="63.40" y2="528.07" stroke="#555" stroke-width="0.9" />
<line x1="60.90" y1="511.45" x2="65.90" y2="511.45" stroke="#231f20" stroke-width="0.9" />
<rect x="60.30" y="553.80" width="6.20" height="61.20" fill="#155387"/>
<line x1="74.70" y1="556.66" x2="74.70" y2="565.63" stroke="#555" stroke-width="0.9" />
<line x1="72.70" y1="556.66" x2="76.70" y2="556.66" stroke="#231f20" stroke-width="0.9" />
<rect x="71.60" y="565.63" width="6.20" height="49.37" fill="#cc1434"/>
<line x1="85.70" y1="574.20" x2="85.70" y2="577.06" stroke="#555" stroke-width="0.9" />
<line x1="83.70" y1="574.20" x2="87.70" y2="574.20" stroke="#231f20" stroke-width="0.9" />
<rect x="82.60" y="577.06" width="6.20" height="37.94" fill="#3fb349"/>
<line x1="74.70" y1="615.00" x2="74.70" y2="617.50" stroke="#231f20" stroke-width="0.9" />
<line x1="103.80" y1="574.20" x2="103.80" y2="589.30" stroke="#555" stroke-width="0.9" />
<line x1="101.30" y1="574.20" x2="106.30" y2="574.20" stroke="#231f20" stroke-width="0.9" />
<rect x="100.80" y="589.30" width="6.00" height="25.70" fill="#155387"/>
<line x1="115.20" y1="610.92" x2="115.20" y2="614.18" stroke="#555" stroke-width="0.9" />
<line x1="113.20" y1="610.92" x2="117.20" y2="610.92" stroke="#231f20" stroke-width="0.9" />
<rect x="112.10" y="614.18" width="6.20" height="0.82" fill="#cc1434"/>
<line x1="115.20" y1="615.00" x2="115.20" y2="617.50" stroke="#231f20" stroke-width="0.9" />
<line x1="143.80" y1="569.30" x2="143.80" y2="587.66" stroke="#555" stroke-width="0.9" />
<line x1="141.30" y1="569.30" x2="146.30" y2="569.30" stroke="#231f20" stroke-width="0.9" />
<rect x="140.80" y="587.66" width="6.00" height="27.34" fill="#155387"/>
<line x1="155.20" y1="612.14" x2="155.20" y2="614.18" stroke="#555" stroke-width="0.9" />
<line x1="153.20" y1="612.14" x2="157.20" y2="612.14" stroke="#231f20" stroke-width="0.9" />
<rect x="152.10" y="614.18" width="6.20" height="0.82" fill="#cc1434"/>
<line x1="155.20" y1="615.00" x2="155.20" y2="617.50" stroke="#231f20" stroke-width="0.9" />
<line x1="184.20" y1="570.12" x2="184.20" y2="580.32" stroke="#555" stroke-width="0.9" />
<line x1="181.70" y1="570.12" x2="186.70" y2="570.12" stroke="#231f20" stroke-width="0.9" />
<rect x="181.20" y="580.32" width="6.00" height="34.68" fill="#155387"/>
<line x1="195.60" y1="606.43" x2="195.60" y2="610.92" stroke="#555" stroke-width="0.9" />
<line x1="193.60" y1="606.43" x2="197.60" y2="606.43" stroke="#231f20" stroke-width="0.9" />
<rect x="192.50" y="610.92" width="6.20" height="4.08" fill="#cc1434"/>
<line x1="206.60" y1="603.98" x2="206.60" y2="609.70" stroke="#555" stroke-width="0.9" />
<line x1="204.60" y1="603.98" x2="208.60" y2="603.98" stroke="#231f20" stroke-width="0.9" />
<rect x="203.50" y="609.70" width="6.20" height="5.30" fill="#3fb349"/>
<line x1="195.60" y1="615.00" x2="195.60" y2="617.50" stroke="#231f20" stroke-width="0.9" />
<line x1="224.90" y1="572.16" x2="224.90" y2="590.11" stroke="#555" stroke-width="0.9" />
<line x1="222.40" y1="572.16" x2="227.40" y2="572.16" stroke="#231f20" stroke-width="0.9" />
<rect x="221.90" y="590.11" width="6.00" height="24.89" fill="#155387"/>
<line x1="236.30" y1="606.43" x2="236.30" y2="607.66" stroke="#555" stroke-width="0.9" />
<line x1="234.30" y1="606.43" x2="238.30" y2="606.43" stroke="#231f20" stroke-width="0.9" />
<rect x="233.20" y="607.66" width="6.20" height="7.34" fill="#cc1434"/>
<line x1="247.30" y1="607.66" x2="247.30" y2="608.06" stroke="#555" stroke-width="0.9" />
<line x1="245.30" y1="607.66" x2="249.30" y2="607.66" stroke="#231f20" stroke-width="0.9" />
<rect x="244.20" y="608.06" width="6.20" height="6.94" fill="#3fb349"/>
<line x1="236.30" y1="615.00" x2="236.30" y2="617.50" stroke="#231f20" stroke-width="0.9" />
<line x1="265.30" y1="581.95" x2="265.30" y2="596.23" stroke="#555" stroke-width="0.9" />
<line x1="262.80" y1="581.95" x2="267.80" y2="581.95" stroke="#231f20" stroke-width="0.9" />
<rect x="262.30" y="596.23" width="6.00" height="18.77" fill="#155387"/>
<line x1="276.70" y1="614.18" x2="276.70" y2="614.18" stroke="#555" stroke-width="0.9" />
<line x1="274.70" y1="614.18" x2="278.70" y2="614.18" stroke="#231f20" stroke-width="0.9" />
<rect x="273.60" y="614.18" width="6.20" height="0.82" fill="#cc1434"/>
<line x1="287.70" y1="614.18" x2="287.70" y2="614.18" stroke="#555" stroke-width="0.9" />
<line x1="285.70" y1="614.18" x2="289.70" y2="614.18" stroke="#231f20" stroke-width="0.9" />
<rect x="284.60" y="614.18" width="6.20" height="0.82" fill="#3fb349"/>
<line x1="276.70" y1="615.00" x2="276.70" y2="617.50" stroke="#231f20" stroke-width="0.9" />
<text x="74.70" y="625.80" font-size="6.67" text-anchor="middle" font-weight="normal" font-style="normal" fill="#231f20"  textLength="21.01" lengthAdjust="spacingAndGlyphs">Content</text>
<text x="115.20" y="625.80" font-size="6.67" text-anchor="middle" font-weight="normal" font-style="normal" fill="#231f20"  textLength="12.34" lengthAdjust="spacingAndGlyphs">ADP</text>
<text x="115.20" y="634.00" font-size="6.67" text-anchor="middle" font-weight="normal" font-style="normal" fill="#231f20"  textLength="13.46" lengthAdjust="spacingAndGlyphs">5 µM</text>
<text x="155.20" y="625.80" font-size="6.67" text-anchor="middle" font-weight="normal" font-style="normal" fill="#231f20"  textLength="32.02" lengthAdjust="spacingAndGlyphs">Epinephrine</text>
<text x="155.20" y="634.00" font-size="6.67" text-anchor="middle" font-weight="normal" font-style="normal" fill="#231f20"  textLength="20.13" lengthAdjust="spacingAndGlyphs">100 µM</text>
<text x="195.60" y="625.80" font-size="6.67" text-anchor="middle" font-weight="normal" font-style="normal" fill="#231f20"  textLength="23.68" lengthAdjust="spacingAndGlyphs">Collagen</text>
<text x="195.60" y="634.00" font-size="6.67" text-anchor="middle" font-weight="normal" font-style="normal" fill="#231f20"  textLength="21.34" lengthAdjust="spacingAndGlyphs">2 mg/ml</text>
<text x="236.30" y="625.80" font-size="6.67" text-anchor="middle" font-weight="normal" font-style="normal" fill="#231f20"  textLength="44.02" lengthAdjust="spacingAndGlyphs">Arachidonic acid</text>
<text x="236.30" y="634.00" font-size="6.67" text-anchor="middle" font-weight="normal" font-style="normal" fill="#231f20"  textLength="13.33" lengthAdjust="spacingAndGlyphs">1mM</text>
<text x="276.70" y="625.80" font-size="6.67" text-anchor="middle" font-weight="normal" font-style="normal" fill="#231f20"  textLength="21.02" lengthAdjust="spacingAndGlyphs">U46619</text>
<text x="276.70" y="634.00" font-size="6.67" text-anchor="middle" font-weight="normal" font-style="normal" fill="#231f20"  textLength="13.46" lengthAdjust="spacingAndGlyphs">1 µM</text>
<text x="74.50" y="549.50" font-size="6" text-anchor="middle" font-weight="normal" font-style="normal" fill="#231f20" >*</text>
<text x="85.40" y="570.70" font-size="6" text-anchor="middle" font-weight="normal" font-style="normal" fill="#231f20" >*</text>
<text x="114.20" y="608.80" font-size="6" text-anchor="middle" font-weight="normal" font-style="normal" fill="#231f20" >*</text>
<text x="124.00" y="608.80" font-size="6" text-anchor="middle" font-weight="normal" font-style="normal" fill="#231f20" >*</text>
<text x="155.00" y="609.20" font-size="6" text-anchor="middle" font-weight="normal" font-style="normal" fill="#231f20" >*</text>
<text x="164.20" y="609.20" font-size="6" text-anchor="middle" font-weight="normal" font-style="normal" fill="#231f20" >*</text>
<text x="195.40" y="603.40" font-size="6" text-anchor="middle" font-weight="normal" font-style="normal" fill="#231f20" >**</text>
<text x="206.50" y="603.40" font-size="6" text-anchor="middle" font-weight="normal" font-style="normal" fill="#231f20" >**</text>
<text x="235.80" y="603.00" font-size="6" text-anchor="middle" font-weight="normal" font-style="normal" fill="#231f20" >*</text>
<text x="246.90" y="603.00" font-size="6" text-anchor="middle" font-weight="normal" font-style="normal" fill="#231f20" >*</text>
<text x="276.20" y="602.70" font-size="6" text-anchor="middle" font-weight="normal" font-style="normal" fill="#231f20" >*</text>
<text x="287.20" y="602.70" font-size="6" text-anchor="middle" font-weight="normal" font-style="normal" fill="#231f20" >*</text>
<rect x="297.80" y="546.30" width="5.50" height="5.10" fill="#155387"/>
<text x="306.00" y="551.20" font-size="6.52" text-anchor="start" font-weight="normal" font-style="normal" fill="#231f20"  textLength="19.34" lengthAdjust="spacingAndGlyphs">Control</text>
<rect x="297.80" y="555.75" width="5.50" height="5.10" fill="#cc1434"/>
<text x="306.00" y="560.65" font-size="6.52" text-anchor="start" font-weight="normal" font-style="normal" fill="#231f20"  textLength="28.35" lengthAdjust="spacingAndGlyphs">Propositus</text>
<rect x="297.80" y="565.20" width="5.50" height="5.10" fill="#3fb349"/>
<text x="306.00" y="570.10" font-size="6.52" text-anchor="start" font-weight="normal" font-style="normal" fill="#231f20"  textLength="19.68" lengthAdjust="spacingAndGlyphs">Brother</text>
<text x="357.00" y="338.80" font-size="10.5" text-anchor="middle" font-weight="bold" font-style="normal" fill="#000" >D</text>
<line x1="394.40" y1="358.40" x2="394.40" y2="455.30" stroke="#231f20" stroke-width="1" />
<line x1="393.90" y1="454.80" x2="469.60" y2="454.80" stroke="#231f20" stroke-width="1" />
<line x1="391.90" y1="454.80" x2="394.40" y2="454.80" stroke="#231f20" stroke-width="0.9" />
<text x="389.10" y="457.00" font-size="6.5" text-anchor="end" font-weight="normal" font-style="normal" fill="#231f20" >0</text>
<line x1="391.90" y1="431.50" x2="394.40" y2="431.50" stroke="#231f20" stroke-width="0.9" />
<text x="389.10" y="433.70" font-size="6.5" text-anchor="end" font-weight="normal" font-style="normal" fill="#231f20" >20</text>
<line x1="391.90" y1="408.20" x2="394.40" y2="408.20" stroke="#231f20" stroke-width="0.9" />
<text x="389.10" y="410.40" font-size="6.5" text-anchor="end" font-weight="normal" font-style="normal" fill="#231f20" >40</text>
<line x1="391.90" y1="384.90" x2="394.40" y2="384.90" stroke="#231f20" stroke-width="0.9" />
<text x="389.10" y="387.10" font-size="6.5" text-anchor="end" font-weight="normal" font-style="normal" fill="#231f20" >60</text>
<line x1="391.90" y1="361.60" x2="394.40" y2="361.60" stroke="#231f20" stroke-width="0.9" />
<text x="389.10" y="363.80" font-size="6.5" text-anchor="end" font-weight="normal" font-style="normal" fill="#231f20" >80</text>
<text transform="translate(368.0,408.6) rotate(-90)" font-size="6.4" text-anchor="middle" fill="#231f20" textLength="43.5" lengthAdjust="spacingAndGlyphs">α<tspan font-size="3.8" dy="1.5">IIb</tspan><tspan dy="-1.5">β</tspan><tspan font-size="3.8" dy="1.5">3</tspan><tspan dy="-1.5"> activation</tspan></text>
<text transform="translate(376.3,408.4) rotate(-90)" font-size="6.4" text-anchor="middle" fill="#231f20" textLength="54" lengthAdjust="spacingAndGlyphs">(% of PAC-1 binding)</text>
<line x1="402.55" y1="451.07" x2="402.55" y2="452.47" stroke="#231f20" stroke-width="0.9" />
<line x1="400.55" y1="451.07" x2="404.55" y2="451.07" stroke="#231f20" stroke-width="0.9" />
<rect x="399.50" y="452.47" width="6.10" height="2.33" fill="#155387"/>
<line x1="413.75" y1="452.24" x2="413.75" y2="453.05" stroke="#231f20" stroke-width="0.9" />
<line x1="411.75" y1="452.24" x2="415.75" y2="452.24" stroke="#231f20" stroke-width="0.9" />
<rect x="410.70" y="453.05" width="6.10" height="1.75" fill="#cc1434"/>
<line x1="424.75" y1="452.59" x2="424.75" y2="453.05" stroke="#231f20" stroke-width="0.9" />
<line x1="422.75" y1="452.59" x2="426.75" y2="452.59" stroke="#231f20" stroke-width="0.9" />
<rect x="421.70" y="453.05" width="6.10" height="1.75" fill="#3fb349"/>
<line x1="413.70" y1="454.80" x2="413.70" y2="457.30" stroke="#231f20" stroke-width="0.9" />
<line x1="442.35" y1="370.92" x2="442.35" y2="378.49" stroke="#231f20" stroke-width="0.9" />
<line x1="440.35" y1="370.92" x2="444.35" y2="370.92" stroke="#231f20" stroke-width="0.9" />
<rect x="439.30" y="378.49" width="6.10" height="76.31" fill="#155387"/>
<line x1="453.55" y1="418.10" x2="453.55" y2="422.76" stroke="#231f20" stroke-width="0.9" />
<line x1="451.55" y1="418.10" x2="455.55" y2="418.10" stroke="#231f20" stroke-width="0.9" />
<rect x="450.50" y="422.76" width="6.10" height="32.04" fill="#cc1434"/>
<line x1="464.55" y1="409.95" x2="464.55" y2="411.11" stroke="#231f20" stroke-width="0.9" />
<line x1="462.55" y1="409.95" x2="466.55" y2="409.95" stroke="#231f20" stroke-width="0.9" />
<rect x="461.50" y="411.11" width="6.10" height="43.69" fill="#3fb349"/>
<line x1="453.50" y1="454.80" x2="453.50" y2="457.30" stroke="#231f20" stroke-width="0.9" />
<text x="453.50" y="412.20" font-size="6" text-anchor="middle" font-weight="normal" font-style="normal" fill="#231f20" >**</text>
<text x="464.50" y="406.00" font-size="6" text-anchor="middle" font-weight="normal" font-style="normal" fill="#231f20" >**</text>
<text x="413.20" y="466.00" font-size="6.89" text-anchor="middle" font-weight="normal" font-style="normal" fill="#231f20"  textLength="21.02" lengthAdjust="spacingAndGlyphs">Resting</text>
<text x="453.20" y="466.00" font-size="6.89" text-anchor="middle" font-weight="normal" font-style="normal" fill="#231f20"  textLength="31.83" lengthAdjust="spacingAndGlyphs">ADP 10 µM</text>
<rect x="477.40" y="394.70" width="5.50" height="5.20" fill="#155387"/>
<text x="485.60" y="399.60" font-size="6.52" text-anchor="start" font-weight="normal" font-style="normal" fill="#231f20"  textLength="19.34" lengthAdjust="spacingAndGlyphs">Control</text>
<rect x="477.40" y="404.40" width="5.50" height="5.20" fill="#cc1434"/>
<text x="485.60" y="409.30" font-size="6.52" text-anchor="start" font-weight="normal" font-style="normal" fill="#231f20"  textLength="28.35" lengthAdjust="spacingAndGlyphs">Propositus</text>
<rect x="477.40" y="414.10" width="5.50" height="5.20" fill="#3fb349"/>
<text x="485.60" y="419.00" font-size="6.52" text-anchor="start" font-weight="normal" font-style="normal" fill="#231f20"  textLength="19.68" lengthAdjust="spacingAndGlyphs">Brother</text>
<text x="356.30" y="498.00" font-size="10.5" text-anchor="middle" font-weight="bold" font-style="normal" fill="#000" >E</text>
<line x1="364.00" y1="594.60" x2="510.00" y2="594.60" stroke="#cfcfcf" stroke-width="0.5" />
<polyline points="364.23,594.60 364.42,594.07 364.61,593.26 364.80,592.28 364.98,591.18 365.17,589.98 365.36,588.69 365.55,587.33 365.74,585.89 365.93,584.39 366.12,582.83 366.30,581.22 366.49,579.55 366.68,577.83 366.87,576.06 367.06,574.26 367.25,572.40 367.43,570.51 367.62,568.58 367.81,566.61 368.00,564.60 368.19,566.61 368.38,568.58 368.57,570.51 368.75,572.40 368.94,574.26 369.13,576.06 369.32,577.83 369.51,579.55 369.70,581.22 369.88,582.83 370.07,584.39 370.26,585.89 370.45,587.33 370.64,588.69 370.83,589.98 371.02,591.18 371.20,592.28 371.39,593.26 371.58,594.07 371.77,594.60" fill="none" stroke="#5a7ca4" stroke-width="0.9" stroke-linejoin="round" />
<polyline points="368.02,594.60 368.19,594.19 368.37,593.55 368.54,592.79 368.72,591.94 368.89,591.00 369.06,589.99 369.24,588.93 369.41,587.81 369.59,586.64 369.76,585.42 369.93,584.16 370.11,582.86 370.28,581.52 370.46,580.14 370.63,578.73 370.80,577.29 370.98,575.81 371.15,574.30 371.33,572.77 371.50,571.20 371.67,572.77 371.85,574.30 372.02,575.81 372.20,577.29 372.37,578.73 372.54,580.14 372.72,581.52 372.89,582.86 373.07,584.16 373.24,585.42 373.41,586.64 373.59,587.81 373.76,588.93 373.94,589.99 374.11,591.00 374.28,591.94 374.46,592.79 374.63,593.55 374.81,594.19 374.98,594.60" fill="none" stroke="#5cb870" stroke-width="0.9" stroke-linejoin="round" />
<polyline points="373.42,594.60 373.59,594.21 373.77,593.62 373.94,592.90 374.12,592.09 374.29,591.21 374.46,590.27 374.64,589.27 374.81,588.21 374.99,587.11 375.16,585.97 375.33,584.78 375.51,583.56 375.68,582.30 375.86,581.01 376.03,579.68 376.20,578.32 376.38,576.93 376.55,575.52 376.73,574.07 376.90,572.60 377.07,574.07 377.25,575.52 377.42,576.93 377.60,578.32 377.77,579.68 377.94,581.01 378.12,582.30 378.29,583.56 378.47,584.78 378.64,585.97 378.81,587.11 378.99,588.21 379.16,589.27 379.34,590.27 379.51,591.21 379.68,592.09 379.86,592.90 380.03,593.62 380.21,594.21 380.38,594.60" fill="none" stroke="#b8bce0" stroke-width="0.9" stroke-linejoin="round" />
<polyline points="379.33,594.60 379.52,593.46 379.71,591.69 379.90,589.57 380.08,587.19 380.27,584.58 380.46,581.79 380.65,578.82 380.84,575.70 381.03,572.45 381.22,569.06 381.40,565.56 381.59,561.93 381.78,558.21 381.97,554.38 382.16,550.45 382.35,546.43 382.53,542.32 382.72,538.13 382.91,533.86 383.10,529.50 383.29,533.86 383.48,538.13 383.67,542.32 383.85,546.43 384.04,550.45 384.23,554.38 384.42,558.21 384.61,561.93 384.80,565.56 384.99,569.06 385.17,572.45 385.36,575.70 385.55,578.82 385.74,581.79 385.93,584.58 386.12,587.19 386.30,589.57 386.49,591.69 386.68,593.46 386.87,594.60" fill="none" stroke="#b8bce0" stroke-width="0.9" stroke-linejoin="round" />
<polyline points="385.14,594.60 385.34,593.86 385.55,592.71 385.75,591.33 385.95,589.78 386.15,588.09 386.36,586.27 386.56,584.35 386.76,582.32 386.97,580.21 387.17,578.01 387.37,575.73 387.58,573.38 387.78,570.95 387.98,568.46 388.19,565.91 388.39,563.30 388.59,560.63 388.79,557.91 389.00,555.13 389.20,552.30 389.40,555.13 389.61,557.91 389.81,560.63 390.01,563.30 390.21,565.91 390.42,568.46 390.62,570.95 390.82,573.38 391.03,575.73 391.23,578.01 391.43,580.21 391.64,582.32 391.84,584.35 392.04,586.27 392.25,588.09 392.45,589.78 392.65,591.33 392.85,592.71 393.06,593.86 393.26,594.60" fill="none" stroke="#dc5a80" stroke-width="0.9" stroke-linejoin="round" />
<polyline points="391.74,594.60 391.94,593.89 392.15,592.78 392.35,591.45 392.55,589.95 392.75,588.32 392.96,586.57 393.16,584.71 393.36,582.76 393.57,580.72 393.77,578.59 393.97,576.40 394.18,574.13 394.38,571.79 394.58,569.39 394.79,566.93 394.99,564.41 395.19,561.84 395.39,559.21 395.60,556.53 395.80,553.80 396.00,556.53 396.21,559.21 396.41,561.84 396.61,564.41 396.81,566.93 397.02,569.39 397.22,571.79 397.42,574.13 397.63,576.40 397.83,578.59 398.03,580.72 398.24,582.76 398.44,584.71 398.64,586.57 398.85,588.32 399.05,589.95 399.25,591.45 399.45,592.78 399.66,593.89 399.86,594.60" fill="none" stroke="#dc5a80" stroke-width="0.9" stroke-linejoin="round" />
<polyline points="397.74,594.60 397.94,593.97 398.15,593.01 398.35,591.84 398.55,590.54 398.75,589.11 398.96,587.57 399.16,585.95 399.36,584.24 399.57,582.45 399.77,580.60 399.97,578.67 400.18,576.69 400.38,574.64 400.58,572.54 400.79,570.39 400.99,568.19 401.19,565.93 401.39,563.63 401.60,561.29 401.80,558.90 402.00,561.29 402.21,563.63 402.41,565.93 402.61,568.19 402.81,570.39 403.02,572.54 403.22,574.64 403.42,576.69 403.63,578.67 403.83,580.60 404.03,582.45 404.24,584.24 404.44,585.95 404.64,587.57 404.85,589.11 405.05,590.54 405.25,591.84 405.45,593.01 405.66,593.97 405.86,594.60" fill="none" stroke="#dc5a80" stroke-width="0.9" stroke-linejoin="round" />
<polyline points="403.63,594.60 403.82,593.46 404.01,591.69 404.20,589.57 404.38,587.19 404.57,584.58 404.76,581.79 404.95,578.82 405.14,575.70 405.33,572.45 405.51,569.06 405.70,565.56 405.89,561.93 406.08,558.21 406.27,554.38 406.46,550.45 406.65,546.43 406.83,542.32 407.02,538.13 407.21,533.86 407.40,529.50 407.59,533.86 407.78,538.13 407.97,542.32 408.15,546.43 408.34,550.45 408.53,554.38 408.72,558.21 408.91,561.93 409.10,565.56 409.28,569.06 409.47,572.45 409.66,575.70 409.85,578.82 410.04,581.79 410.23,584.58 410.42,587.19 410.60,589.57 410.79,591.69 410.98,593.46 411.17,594.60" fill="none" stroke="#b8bce0" stroke-width="0.9" stroke-linejoin="round" />
<polyline points="408.83,594.60 409.02,594.06 409.21,593.22 409.40,592.22 409.58,591.09 409.77,589.86 409.96,588.54 410.15,587.13 410.34,585.66 410.53,584.12 410.72,582.52 410.90,580.86 411.09,579.15 411.28,577.38 411.47,575.57 411.66,573.71 411.85,571.81 412.03,569.87 412.22,567.88 412.41,565.86 412.60,563.80 412.79,565.86 412.98,567.88 413.17,569.87 413.35,571.81 413.54,573.71 413.73,575.57 413.92,577.38 414.11,579.15 414.30,580.86 414.49,582.52 414.67,584.12 414.86,585.66 415.05,587.13 415.24,588.54 415.43,589.86 415.62,591.09 415.80,592.22 415.99,593.22 416.18,594.06 416.37,594.60" fill="none" stroke="#dc5a80" stroke-width="0.9" stroke-linejoin="round" />
<polyline points="415.73,594.60 415.92,593.89 416.11,592.80 416.30,591.48 416.48,590.00 416.67,588.38 416.86,586.65 417.05,584.81 417.24,582.87 417.43,580.85 417.62,578.75 417.80,576.58 417.99,574.33 418.18,572.02 418.37,569.64 418.56,567.20 418.75,564.71 418.93,562.16 419.12,559.56 419.31,556.90 419.50,554.20 419.69,556.90 419.88,559.56 420.07,562.16 420.25,564.71 420.44,567.20 420.63,569.64 420.82,572.02 421.01,574.33 421.20,576.58 421.38,578.75 421.57,580.85 421.76,582.87 421.95,584.81 422.14,586.65 422.33,588.38 422.52,590.00 422.70,591.48 422.89,592.80 423.08,593.89 423.27,594.60" fill="none" stroke="#5a7ca4" stroke-width="0.9" stroke-linejoin="round" />
<polyline points="421.77,594.60 421.96,594.05 422.14,593.19 422.32,592.17 422.50,591.01 422.68,589.75 422.86,588.40 423.04,586.97 423.22,585.46 423.41,583.88 423.59,582.24 423.77,580.55 423.95,578.79 424.13,576.99 424.31,575.14 424.49,573.24 424.67,571.29 424.86,569.31 425.04,567.28 425.22,565.21 425.40,563.10 425.58,565.21 425.76,567.28 425.94,569.31 426.12,571.29 426.31,573.24 426.49,575.14 426.67,576.99 426.85,578.79 427.03,580.55 427.21,582.24 427.39,583.88 427.57,585.46 427.76,586.97 427.94,588.40 428.12,589.75 428.30,591.01 428.48,592.17 428.66,593.19 428.84,594.05 429.02,594.60" fill="none" stroke="#b8bce0" stroke-width="0.9" stroke-linejoin="round" />
<polyline points="427.03,594.60 427.22,593.64 427.41,592.15 427.60,590.36 427.78,588.35 427.97,586.15 428.16,583.79 428.35,581.29 428.54,578.66 428.73,575.92 428.92,573.06 429.10,570.11 429.29,567.05 429.48,563.91 429.67,560.68 429.86,557.37 430.05,553.98 430.23,550.52 430.42,546.98 430.61,543.37 430.80,539.70 430.99,543.37 431.18,546.98 431.37,550.52 431.55,553.98 431.74,557.37 431.93,560.68 432.12,563.91 432.31,567.05 432.50,570.11 432.69,573.06 432.87,575.92 433.06,578.66 433.25,581.29 433.44,583.79 433.63,586.15 433.82,588.35 434.00,590.36 434.19,592.15 434.38,593.64 434.57,594.60" fill="none" stroke="#b8bce0" stroke-width="0.9" stroke-linejoin="round" />
<polyline points="432.83,594.60 433.02,594.05 433.21,593.21 433.40,592.19 433.58,591.05 433.77,589.80 433.96,588.46 434.15,587.04 434.34,585.54 434.53,583.98 434.72,582.36 434.90,580.68 435.09,578.94 435.28,577.16 435.47,575.32 435.66,573.44 435.85,571.52 436.03,569.55 436.22,567.54 436.41,565.49 436.60,563.40 436.79,565.49 436.98,567.54 437.17,569.55 437.35,571.52 437.54,573.44 437.73,575.32 437.92,577.16 438.11,578.94 438.30,580.68 438.49,582.36 438.67,583.98 438.86,585.54 439.05,587.04 439.24,588.46 439.43,589.80 439.62,591.05 439.80,592.19 439.99,593.21 440.18,594.05 440.37,594.60" fill="none" stroke="#dc5a80" stroke-width="0.9" stroke-linejoin="round" />
<polyline points="439.62,594.60 439.79,594.26 439.97,593.72 440.14,593.09 440.32,592.37 440.49,591.58 440.66,590.74 440.84,589.85 441.01,588.91 441.19,587.93 441.36,586.91 441.53,585.86 441.71,584.77 441.88,583.64 442.06,582.49 442.23,581.31 442.40,580.10 442.58,578.86 442.75,577.60 442.93,576.31 443.10,575.00 443.27,576.31 443.45,577.60 443.62,578.86 443.80,580.10 443.97,581.31 444.14,582.49 444.32,583.64 444.49,584.77 444.67,585.86 444.84,586.91 445.01,587.93 445.19,588.91 445.36,589.85 445.54,590.74 445.71,591.58 445.88,592.37 446.06,593.09 446.23,593.72 446.41,594.26 446.58,594.60" fill="none" stroke="#dc5a80" stroke-width="0.9" stroke-linejoin="round" />
<polyline points="439.91,594.60 440.07,594.17 440.23,593.50 440.39,592.70 440.55,591.80 440.71,590.81 440.87,589.76 441.03,588.64 441.19,587.46 441.35,586.23 441.50,584.95 441.66,583.62 441.82,582.26 441.98,580.85 442.14,579.40 442.30,577.92 442.46,576.40 442.62,574.85 442.78,573.26 442.94,571.65 443.10,570.00 443.26,571.65 443.42,573.26 443.58,574.85 443.74,576.40 443.90,577.92 444.06,579.40 444.22,580.85 444.38,582.26 444.54,583.62 444.70,584.95 444.85,586.23 445.01,587.46 445.17,588.64 445.33,589.76 445.49,590.81 445.65,591.80 445.81,592.70 445.97,593.50 446.13,594.17 446.29,594.60" fill="none" stroke="#5a7ca4" stroke-width="0.9" stroke-linejoin="round" />
<polyline points="444.73,594.60 444.92,593.79 445.11,592.54 445.30,591.04 445.48,589.35 445.67,587.51 445.86,585.53 446.05,583.43 446.24,581.22 446.43,578.91 446.62,576.52 446.80,574.03 446.99,571.47 447.18,568.83 447.37,566.12 447.56,563.34 447.75,560.49 447.93,557.58 448.12,554.61 448.31,551.58 448.50,548.50 448.69,551.58 448.88,554.61 449.07,557.58 449.25,560.49 449.44,563.34 449.63,566.12 449.82,568.83 450.01,571.47 450.20,574.03 450.38,576.52 450.57,578.91 450.76,581.22 450.95,583.43 451.14,585.53 451.33,587.51 451.52,589.35 451.70,591.04 451.89,592.54 452.08,593.79 452.27,594.60" fill="none" stroke="#b8bce0" stroke-width="0.9" stroke-linejoin="round" />
<polyline points="450.03,594.60 450.22,593.67 450.41,592.23 450.60,590.50 450.78,588.55 450.97,586.43 451.16,584.15 451.35,581.73 451.54,579.19 451.73,576.53 451.92,573.77 452.10,570.91 452.29,567.96 452.48,564.92 452.67,561.79 452.86,558.59 453.05,555.31 453.23,551.96 453.42,548.54 453.61,545.05 453.80,541.50 453.99,545.05 454.18,548.54 454.37,551.96 454.55,555.31 454.74,558.59 454.93,561.79 455.12,564.92 455.31,567.96 455.50,570.91 455.69,573.77 455.87,576.53 456.06,579.19 456.25,581.73 456.44,584.15 456.63,586.43 456.82,588.55 457.00,590.50 457.19,592.23 457.38,593.67 457.57,594.60" fill="none" stroke="#5cb870" stroke-width="0.9" stroke-linejoin="round" />
<polyline points="455.93,594.60 456.12,593.98 456.31,593.02 456.50,591.87 456.68,590.57 456.87,589.15 457.06,587.63 457.25,586.02 457.44,584.32 457.63,582.55 457.81,580.71 458.00,578.81 458.19,576.84 458.38,574.81 458.57,572.73 458.76,570.59 458.95,568.41 459.13,566.17 459.32,563.89 459.51,561.57 459.70,559.20 459.89,561.57 460.08,563.89 460.27,566.17 460.45,568.41 460.64,570.59 460.83,572.73 461.02,574.81 461.21,576.84 461.40,578.81 461.58,580.71 461.77,582.55 461.96,584.32 462.15,586.02 462.34,587.63 462.53,589.15 462.72,590.57 462.90,591.87 463.09,593.02 463.28,593.98 463.47,594.60" fill="none" stroke="#5cb870" stroke-width="0.9" stroke-linejoin="round" />
<polyline points="460.32,594.60 460.49,594.10 460.67,593.31 460.84,592.38 461.02,591.32 461.19,590.17 461.36,588.93 461.54,587.62 461.71,586.24 461.89,584.80 462.06,583.30 462.23,581.75 462.41,580.15 462.58,578.50 462.76,576.81 462.93,575.07 463.10,573.29 463.28,571.47 463.45,569.62 463.63,567.73 463.80,565.80 463.97,567.73 464.15,569.62 464.32,571.47 464.50,573.29 464.67,575.07 464.84,576.81 465.02,578.50 465.19,580.15 465.37,581.75 465.54,583.30 465.71,584.80 465.89,586.24 466.06,587.62 466.24,588.93 466.41,590.17 466.58,591.32 466.76,592.38 466.93,593.31 467.11,594.10 467.28,594.60" fill="none" stroke="#b8bce0" stroke-width="0.9" stroke-linejoin="round" />
<polyline points="467.03,594.60 467.22,593.74 467.41,592.40 467.60,590.80 467.78,589.00 467.97,587.03 468.16,584.92 468.35,582.68 468.54,580.32 468.73,577.86 468.92,575.30 469.10,572.65 469.29,569.91 469.48,567.10 469.67,564.20 469.86,561.23 470.05,558.20 470.23,555.09 470.42,551.92 470.61,548.69 470.80,545.40 470.99,548.69 471.18,551.92 471.37,555.09 471.55,558.20 471.74,561.23 471.93,564.20 472.12,567.10 472.31,569.91 472.50,572.65 472.69,575.30 472.87,577.86 473.06,580.32 473.25,582.68 473.44,584.92 473.63,587.03 473.82,589.00 474.00,590.80 474.19,592.40 474.38,593.74 474.57,594.60" fill="none" stroke="#dc5a80" stroke-width="0.9" stroke-linejoin="round" />
<polyline points="472.22,594.60 472.39,593.46 472.57,591.69 472.74,589.57 472.92,587.19 473.09,584.58 473.26,581.79 473.44,578.82 473.61,575.70 473.79,572.45 473.96,569.06 474.13,565.56 474.31,561.93 474.48,558.21 474.66,554.38 474.83,550.45 475.00,546.43 475.18,542.32 475.35,538.13 475.53,533.86 475.70,529.50 475.87,533.86 476.05,538.13 476.22,542.32 476.40,546.43 476.57,550.45 476.74,554.38 476.92,558.21 477.09,561.93 477.27,565.56 477.44,569.06 477.61,572.45 477.79,575.70 477.96,578.82 478.14,581.79 478.31,584.58 478.48,587.19 478.66,589.57 478.83,591.69 479.01,593.46 479.18,594.60" fill="none" stroke="#b8bce0" stroke-width="0.9" stroke-linejoin="round" />
<polyline points="478.02,594.60 478.19,594.00 478.37,593.07 478.54,591.95 478.72,590.69 478.89,589.32 479.06,587.85 479.24,586.29 479.41,584.64 479.59,582.93 479.76,581.14 479.93,579.30 480.11,577.39 480.28,575.43 480.46,573.41 480.63,571.34 480.80,569.22 480.98,567.06 481.15,564.85 481.33,562.59 481.50,560.30 481.67,562.59 481.85,564.85 482.02,567.06 482.20,569.22 482.37,571.34 482.54,573.41 482.72,575.43 482.89,577.39 483.07,579.30 483.24,581.14 483.41,582.93 483.59,584.64 483.76,586.29 483.94,587.85 484.11,589.32 484.28,590.69 484.46,591.95 484.63,593.07 484.81,594.00 484.98,594.60" fill="none" stroke="#b8bce0" stroke-width="0.9" stroke-linejoin="round" />
<polyline points="484.43,594.60 484.62,593.49 484.81,591.78 485.00,589.73 485.18,587.42 485.37,584.89 485.56,582.18 485.75,579.31 485.94,576.28 486.13,573.13 486.31,569.85 486.50,566.45 486.69,562.94 486.88,559.33 487.07,555.61 487.26,551.81 487.45,547.91 487.63,543.93 487.82,539.87 488.01,535.72 488.20,531.50 488.39,535.72 488.58,539.87 488.77,543.93 488.95,547.91 489.14,551.81 489.33,555.61 489.52,559.33 489.71,562.94 489.90,566.45 490.08,569.85 490.27,573.13 490.46,576.28 490.65,579.31 490.84,582.18 491.03,584.89 491.22,587.42 491.40,589.73 491.59,591.78 491.78,593.49 491.97,594.60" fill="none" stroke="#5cb870" stroke-width="0.9" stroke-linejoin="round" />
<polyline points="489.62,594.60 489.79,593.97 489.97,593.00 490.14,591.84 490.32,590.52 490.49,589.09 490.66,587.55 490.84,585.92 491.01,584.21 491.19,582.42 491.36,580.56 491.53,578.63 491.71,576.64 491.88,574.59 492.06,572.48 492.23,570.32 492.40,568.11 492.58,565.85 492.75,563.55 492.93,561.20 493.10,558.80 493.27,561.20 493.45,563.55 493.62,565.85 493.80,568.11 493.97,570.32 494.14,572.48 494.32,574.59 494.49,576.64 494.67,578.63 494.84,580.56 495.01,582.42 495.19,584.21 495.36,585.92 495.54,587.55 495.71,589.09 495.88,590.52 496.06,591.84 496.23,593.00 496.41,593.97 496.58,594.60" fill="none" stroke="#5cb870" stroke-width="0.9" stroke-linejoin="round" />
<polyline points="494.22,594.60 494.39,594.21 494.57,593.60 494.74,592.88 494.92,592.06 495.09,591.17 495.26,590.21 495.44,589.19 495.61,588.13 495.79,587.01 495.96,585.85 496.13,584.65 496.31,583.41 496.48,582.13 496.66,580.82 496.83,579.48 497.00,578.10 497.18,576.69 497.35,575.26 497.53,573.79 497.70,572.30 497.87,573.79 498.05,575.26 498.22,576.69 498.40,578.10 498.57,579.48 498.74,580.82 498.92,582.13 499.09,583.41 499.27,584.65 499.44,585.85 499.61,587.01 499.79,588.13 499.96,589.19 500.14,590.21 500.31,591.17 500.48,592.06 500.66,592.88 500.83,593.60 501.01,594.21 501.18,594.60" fill="none" stroke="#b8bce0" stroke-width="0.9" stroke-linejoin="round" />
<polyline points="500.17,594.60 500.33,593.46 500.50,591.69 500.67,589.57 500.83,587.19 501.00,584.58 501.17,581.79 501.33,578.82 501.50,575.70 501.67,572.45 501.83,569.06 502.00,565.56 502.17,561.93 502.33,558.21 502.50,554.38 502.67,550.45 502.83,546.43 503.00,542.32 503.17,538.13 503.33,533.86 503.50,529.50 503.67,533.86 503.83,538.13 504.00,542.32 504.17,546.43 504.33,550.45 504.50,554.38 504.67,558.21 504.83,561.93 505.00,565.56 505.17,569.06 505.33,572.45 505.50,575.70 505.67,578.82 505.83,581.79 506.00,584.58 506.17,587.19 506.33,589.57 506.50,591.69 506.67,593.46 506.83,594.60" fill="none" stroke="#5cb870" stroke-width="0.9" stroke-linejoin="round" />
<polyline points="504.37,594.60 504.53,593.46 504.70,591.69 504.87,589.57 505.03,587.19 505.20,584.58 505.37,581.79 505.53,578.82 505.70,575.70 505.87,572.45 506.03,569.06 506.20,565.56 506.37,561.93 506.53,558.21 506.70,554.38 506.87,550.45 507.03,546.43 507.20,542.32 507.37,538.13 507.53,533.86 507.70,529.50 507.87,533.86 508.03,538.13 508.20,542.32 508.37,546.43 508.53,550.45 508.70,554.38 508.87,558.21 509.03,561.93 509.20,565.56 509.37,569.06 509.53,572.45 509.70,575.70 509.87,578.82 510.03,581.79 510.20,584.58 510.37,587.19 510.53,589.57 510.70,591.69 510.87,593.46 511.03,594.60" fill="none" stroke="#5cb870" stroke-width="0.9" stroke-linejoin="round" />
<polyline points="450.80,594.60 451.15,594.60 451.49,594.60 451.84,594.60 452.18,594.60 452.53,594.60 452.88,594.60 453.22,594.60 453.57,594.59 453.91,594.59 454.26,594.59 454.61,594.58 454.95,594.57 455.30,594.56 455.64,594.54 455.99,594.52 456.34,594.49 456.68,594.46 457.03,594.41 457.37,594.35 457.72,594.28 458.07,594.19 458.41,594.08 458.76,593.96 459.10,593.81 459.45,593.64 459.80,593.44 460.14,593.23 460.49,592.99 460.83,592.73 461.18,592.46 461.53,592.18 461.87,591.89 462.22,591.60 462.56,591.32 462.91,591.05 463.26,590.81 463.60,590.60 463.95,590.43 464.29,590.30 464.64,590.21 464.99,590.17 465.33,590.18 465.68,590.23 466.02,590.32 466.37,590.44 466.72,590.59 467.06,590.75 467.41,590.91 467.75,591.07 468.10,591.23 468.45,591.36 468.79,591.49 469.14,591.59 469.48,591.69 469.83,591.77 470.18,591.86 470.52,591.94 470.87,592.03 471.21,592.13 471.56,592.23 471.91,592.33 472.25,592.42 472.60,592.50 472.94,592.54 473.29,592.56 473.64,592.53 473.98,592.46 474.33,592.35 474.67,592.20 475.02,592.01 475.37,591.79 475.71,591.57 476.06,591.34 476.40,591.12 476.75,590.93 477.10,590.77 477.44,590.66 477.79,590.60 478.13,590.60 478.48,590.65 478.83,590.76 479.17,590.93 479.52,591.14 479.86,591.38 480.21,591.65 480.56,591.94 480.90,592.24 481.25,592.53 481.59,592.82 481.94,593.08 482.29,593.33 482.63,593.55 482.98,593.75 483.32,593.92 483.67,594.06 484.02,594.18 484.36,594.28 484.71,594.36 485.05,594.42 485.40,594.47" fill="none" stroke="#a0203a" stroke-width="0.8" stroke-linejoin="round" />
<text x="447.30" y="527.50" font-size="6.52" text-anchor="middle" font-weight="normal" font-style="italic" fill="#231f20"  textLength="20.34" lengthAdjust="spacingAndGlyphs">RUNX1</text>
<text x="447.00" y="534.70" font-size="6.63" text-anchor="middle" font-weight="normal" font-style="normal" fill="#231f20"  textLength="26.62" lengthAdjust="spacingAndGlyphs">c.784C&gt;T</text>
<line x1="442.60" y1="541.20" x2="442.60" y2="559.50" stroke="#222" stroke-width="1.15" />
<polygon points="440.5,558.4 444.7,558.4 442.6,563.8" fill="#222"/></svg>
</body></html>
